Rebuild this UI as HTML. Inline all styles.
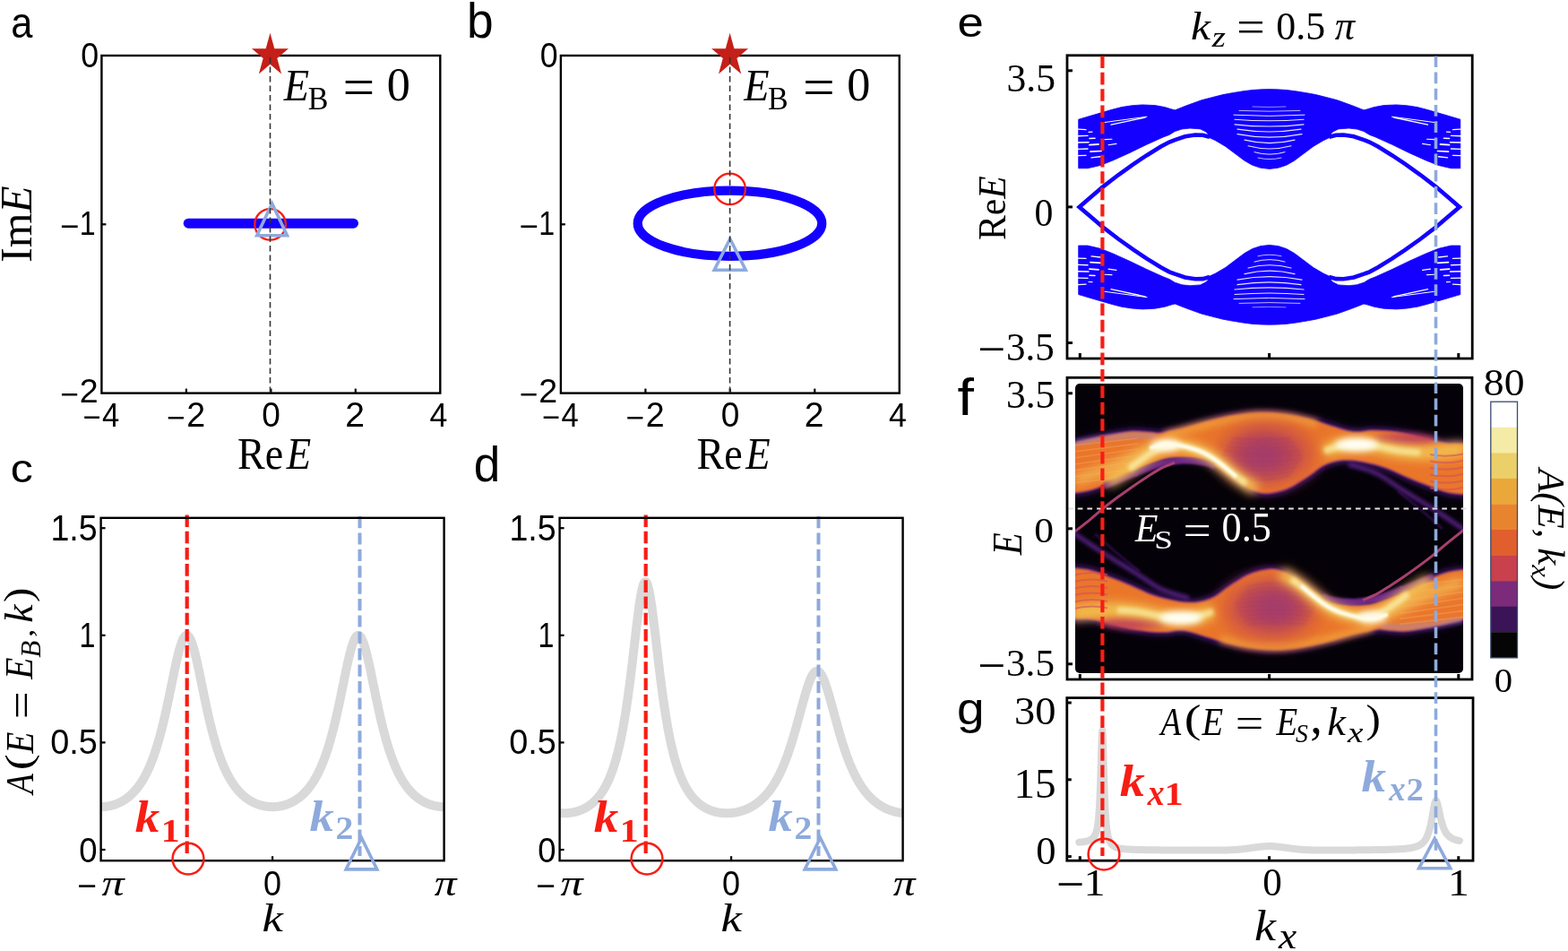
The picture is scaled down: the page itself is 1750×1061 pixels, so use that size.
<!DOCTYPE html>
<html><head><meta charset="utf-8"><title>figure</title>
<style>html,body{margin:0;padding:0;background:#fff;overflow:hidden;} svg{display:block;}</style></head>
<body><svg width="1750" height="1061" viewBox="0 0 1750 1061">
<rect width="1750" height="1061" fill="#fff"/>
<line x1="207.9" y1="438.6" x2="207.9" y2="433.6" stroke="#000" stroke-width="2.2"/>
<line x1="302.4" y1="438.6" x2="302.4" y2="433.6" stroke="#000" stroke-width="2.2"/>
<line x1="396.8" y1="438.6" x2="396.8" y2="433.6" stroke="#000" stroke-width="2.2"/>
<line x1="113.4" y1="250.3" x2="118.4" y2="250.3" stroke="#000" stroke-width="2.2"/>
<line x1="210.2" y1="249.2" x2="394.5" y2="249.2" stroke="#1400ff" stroke-width="11" stroke-linecap="round"/>
<circle cx="301.6" cy="250.4" r="17.3" fill="none" stroke="#f81d14" stroke-width="2.3"/>
<path d="M303.6,227.1 L320.5,262.7 L286.7,262.7 Z" fill="none" stroke="#8eaadc" stroke-width="3.6"/>
<rect x="113.4" y="62.0" width="377.90" height="376.60" fill="none" stroke="#000" stroke-width="2.4"/>
<path d="M301.5,36.8 L306.3,54.3 L322.0,54.3 L309.3,65.1 L314.1,82.6 L301.5,71.7 L288.9,82.6 L293.7,65.1 L281.0,54.3 L296.7,54.3 Z" fill="#c41f18"/>
<line x1="301.5" y1="64.0" x2="301.5" y2="438.6" stroke="#333" stroke-width="1.6" stroke-dasharray="6.5 4"/>
<line x1="720.4" y1="438.6" x2="720.4" y2="433.6" stroke="#000" stroke-width="2.2"/>
<line x1="814.8" y1="438.6" x2="814.8" y2="433.6" stroke="#000" stroke-width="2.2"/>
<line x1="909.3" y1="438.6" x2="909.3" y2="433.6" stroke="#000" stroke-width="2.2"/>
<line x1="625.9" y1="250.3" x2="630.9" y2="250.3" stroke="#000" stroke-width="2.2"/>
<ellipse cx="814.5" cy="249.25" rx="102.8" ry="36.65" fill="none" stroke="#1400ff" stroke-width="10.2"/>
<circle cx="814.6" cy="210.9" r="17.3" fill="none" stroke="#f81d14" stroke-width="2.3"/>
<path d="M814.8,266.5 L832.2,301.3 L797.2,301.3 Z" fill="none" stroke="#8eaadc" stroke-width="3.6"/>
<rect x="625.9" y="62.0" width="377.90" height="376.60" fill="none" stroke="#000" stroke-width="2.4"/>
<path d="M814.6,36.8 L819.4,54.3 L835.1,54.3 L822.4,65.1 L827.2,82.6 L814.6,71.7 L802.0,82.6 L806.8,65.1 L794.1,54.3 L809.8,54.3 Z" fill="#c41f18"/>
<line x1="814.6" y1="64.0" x2="814.6" y2="438.6" stroke="#333" stroke-width="1.6" stroke-dasharray="6.5 4"/>
<line x1="304.1" y1="960.2" x2="304.1" y2="955.2" stroke="#000" stroke-width="2.2"/>
<line x1="112.6" y1="948.0" x2="117.6" y2="948.0" stroke="#000" stroke-width="2.2"/>
<line x1="112.6" y1="828.4" x2="117.6" y2="828.4" stroke="#000" stroke-width="2.2"/>
<line x1="112.6" y1="708.8" x2="117.6" y2="708.8" stroke="#000" stroke-width="2.2"/>
<line x1="112.6" y1="589.2" x2="117.6" y2="589.2" stroke="#000" stroke-width="2.2"/>
<path d="M112.6,900.2 L113.2,900.2 L113.9,900.1 L114.5,900.1 L115.2,900.1 L115.8,900.1 L116.4,900.0 L117.1,900.0 L117.7,899.9 L118.3,899.8 L119.0,899.7 L119.6,899.6 L120.3,899.6 L120.9,899.4 L121.5,899.3 L122.2,899.2 L122.8,899.1 L123.5,898.9 L124.1,898.8 L124.7,898.6 L125.4,898.4 L126.0,898.3 L126.6,898.1 L127.3,897.9 L127.9,897.7 L128.6,897.5 L129.2,897.2 L129.8,897.0 L130.5,896.7 L131.1,896.5 L131.8,896.2 L132.4,895.9 L133.0,895.6 L133.7,895.3 L134.3,895.0 L134.9,894.7 L135.6,894.3 L136.2,894.0 L136.9,893.6 L137.5,893.3 L138.1,892.9 L138.8,892.5 L139.4,892.0 L140.0,891.6 L140.7,891.2 L141.3,890.7 L142.0,890.2 L142.6,889.8 L143.2,889.3 L143.9,888.7 L144.5,888.2 L145.2,887.6 L145.8,887.1 L146.4,886.5 L147.1,885.9 L147.7,885.3 L148.3,884.6 L149.0,884.0 L149.6,883.3 L150.3,882.6 L150.9,881.9 L151.5,881.1 L152.2,880.4 L152.8,879.6 L153.5,878.8 L154.1,878.0 L154.7,877.1 L155.4,876.2 L156.0,875.3 L156.6,874.4 L157.3,873.5 L157.9,872.5 L158.6,871.5 L159.2,870.4 L159.8,869.4 L160.5,868.3 L161.1,867.1 L161.8,866.0 L162.4,864.8 L163.0,863.6 L163.7,862.3 L164.3,861.0 L164.9,859.7 L165.6,858.3 L166.2,856.9 L166.9,855.4 L167.5,853.9 L168.1,852.4 L168.8,850.8 L169.4,849.2 L170.0,847.6 L170.7,845.9 L171.3,844.1 L172.0,842.3 L172.6,840.5 L173.2,838.6 L173.9,836.7 L174.5,834.7 L175.2,832.6 L175.8,830.5 L176.4,828.4 L177.1,826.2 L177.7,824.0 L178.3,821.7 L179.0,819.3 L179.6,816.9 L180.3,814.4 L180.9,811.9 L181.5,809.3 L182.2,806.7 L182.8,804.1 L183.5,801.3 L184.1,798.6 L184.7,795.7 L185.4,792.9 L186.0,790.0 L186.6,787.0 L187.3,784.0 L187.9,781.0 L188.6,778.0 L189.2,774.9 L189.8,771.8 L190.5,768.7 L191.1,765.6 L191.8,762.5 L192.4,759.3 L193.0,756.2 L193.7,753.1 L194.3,750.1 L194.9,747.1 L195.6,744.1 L196.2,741.1 L196.9,738.3 L197.5,735.5 L198.1,732.7 L198.8,730.1 L199.4,727.6 L200.1,725.2 L200.7,722.9 L201.3,720.8 L202.0,718.8 L202.6,717.0 L203.2,715.3 L203.9,713.8 L204.5,712.5 L205.2,711.4 L205.8,710.5 L206.4,709.7 L207.1,709.2 L207.7,708.9 L208.3,708.8 L209.0,708.9 L209.6,709.2 L210.3,709.7 L210.9,710.5 L211.5,711.4 L212.2,712.5 L212.8,713.8 L213.5,715.3 L214.1,717.0 L214.7,718.8 L215.4,720.8 L216.0,722.9 L216.6,725.2 L217.3,727.6 L217.9,730.1 L218.6,732.7 L219.2,735.5 L219.8,738.3 L220.5,741.1 L221.1,744.1 L221.8,747.1 L222.4,750.1 L223.0,753.1 L223.7,756.2 L224.3,759.3 L224.9,762.5 L225.6,765.6 L226.2,768.7 L226.9,771.8 L227.5,774.9 L228.1,778.0 L228.8,781.0 L229.4,784.0 L230.1,787.0 L230.7,790.0 L231.3,792.9 L232.0,795.7 L232.6,798.6 L233.2,801.3 L233.9,804.1 L234.5,806.7 L235.2,809.3 L235.8,811.9 L236.4,814.4 L237.1,816.9 L237.7,819.3 L238.4,821.7 L239.0,824.0 L239.6,826.2 L240.3,828.4 L240.9,830.5 L241.5,832.6 L242.2,834.7 L242.8,836.7 L243.5,838.6 L244.1,840.5 L244.7,842.3 L245.4,844.1 L246.0,845.9 L246.6,847.6 L247.3,849.2 L247.9,850.8 L248.6,852.4 L249.2,853.9 L249.8,855.4 L250.5,856.9 L251.1,858.3 L251.8,859.7 L252.4,861.0 L253.0,862.3 L253.7,863.6 L254.3,864.8 L254.9,866.0 L255.6,867.1 L256.2,868.3 L256.9,869.4 L257.5,870.4 L258.1,871.5 L258.8,872.5 L259.4,873.5 L260.1,874.4 L260.7,875.3 L261.3,876.2 L262.0,877.1 L262.6,878.0 L263.2,878.8 L263.9,879.6 L264.5,880.4 L265.2,881.1 L265.8,881.9 L266.4,882.6 L267.1,883.3 L267.7,884.0 L268.4,884.6 L269.0,885.3 L269.6,885.9 L270.3,886.5 L270.9,887.1 L271.5,887.6 L272.2,888.2 L272.8,888.7 L273.5,889.3 L274.1,889.8 L274.7,890.2 L275.4,890.7 L276.0,891.2 L276.7,891.6 L277.3,892.0 L277.9,892.5 L278.6,892.9 L279.2,893.3 L279.8,893.6 L280.5,894.0 L281.1,894.3 L281.8,894.7 L282.4,895.0 L283.0,895.3 L283.7,895.6 L284.3,895.9 L284.9,896.2 L285.6,896.5 L286.2,896.7 L286.9,897.0 L287.5,897.2 L288.1,897.5 L288.8,897.7 L289.4,897.9 L290.1,898.1 L290.7,898.3 L291.3,898.4 L292.0,898.6 L292.6,898.8 L293.2,898.9 L293.9,899.1 L294.5,899.2 L295.2,899.3 L295.8,899.4 L296.4,899.6 L297.1,899.6 L297.7,899.7 L298.4,899.8 L299.0,899.9 L299.6,900.0 L300.3,900.0 L300.9,900.1 L301.5,900.1 L302.2,900.1 L302.8,900.1 L303.5,900.2 L304.1,900.2 L304.7,900.2 L305.4,900.1 L306.0,900.1 L306.7,900.1 L307.3,900.1 L307.9,900.0 L308.6,900.0 L309.2,899.9 L309.8,899.8 L310.5,899.7 L311.1,899.6 L311.8,899.6 L312.4,899.4 L313.0,899.3 L313.7,899.2 L314.3,899.1 L315.0,898.9 L315.6,898.8 L316.2,898.6 L316.9,898.4 L317.5,898.3 L318.1,898.1 L318.8,897.9 L319.4,897.7 L320.1,897.5 L320.7,897.2 L321.3,897.0 L322.0,896.7 L322.6,896.5 L323.2,896.2 L323.9,895.9 L324.5,895.6 L325.2,895.3 L325.8,895.0 L326.4,894.7 L327.1,894.3 L327.7,894.0 L328.4,893.6 L329.0,893.3 L329.6,892.9 L330.3,892.5 L330.9,892.0 L331.5,891.6 L332.2,891.2 L332.8,890.7 L333.5,890.2 L334.1,889.8 L334.7,889.3 L335.4,888.7 L336.0,888.2 L336.7,887.6 L337.3,887.1 L337.9,886.5 L338.6,885.9 L339.2,885.3 L339.8,884.6 L340.5,884.0 L341.1,883.3 L341.8,882.6 L342.4,881.9 L343.0,881.1 L343.7,880.4 L344.3,879.6 L345.0,878.8 L345.6,878.0 L346.2,877.1 L346.9,876.2 L347.5,875.3 L348.1,874.4 L348.8,873.5 L349.4,872.5 L350.1,871.5 L350.7,870.4 L351.3,869.4 L352.0,868.3 L352.6,867.1 L353.3,866.0 L353.9,864.8 L354.5,863.6 L355.2,862.3 L355.8,861.0 L356.4,859.7 L357.1,858.3 L357.7,856.9 L358.4,855.4 L359.0,853.9 L359.6,852.4 L360.3,850.8 L360.9,849.2 L361.6,847.6 L362.2,845.9 L362.8,844.1 L363.5,842.3 L364.1,840.5 L364.7,838.6 L365.4,836.7 L366.0,834.7 L366.7,832.6 L367.3,830.5 L367.9,828.4 L368.6,826.2 L369.2,824.0 L369.8,821.7 L370.5,819.3 L371.1,816.9 L371.8,814.4 L372.4,811.9 L373.0,809.3 L373.7,806.7 L374.3,804.1 L375.0,801.3 L375.6,798.6 L376.2,795.7 L376.9,792.9 L377.5,790.0 L378.1,787.0 L378.8,784.0 L379.4,781.0 L380.1,778.0 L380.7,774.9 L381.3,771.8 L382.0,768.7 L382.6,765.6 L383.3,762.5 L383.9,759.3 L384.5,756.2 L385.2,753.1 L385.8,750.1 L386.4,747.1 L387.1,744.1 L387.7,741.1 L388.4,738.3 L389.0,735.5 L389.6,732.7 L390.3,730.1 L390.9,727.6 L391.6,725.2 L392.2,722.9 L392.8,720.8 L393.5,718.8 L394.1,717.0 L394.7,715.3 L395.4,713.8 L396.0,712.5 L396.7,711.4 L397.3,710.5 L397.9,709.7 L398.6,709.2 L399.2,708.9 L399.9,708.8 L400.5,708.9 L401.1,709.2 L401.8,709.7 L402.4,710.5 L403.0,711.4 L403.7,712.5 L404.3,713.8 L405.0,715.3 L405.6,717.0 L406.2,718.8 L406.9,720.8 L407.5,722.9 L408.1,725.2 L408.8,727.6 L409.4,730.1 L410.1,732.7 L410.7,735.5 L411.3,738.3 L412.0,741.1 L412.6,744.1 L413.3,747.1 L413.9,750.1 L414.5,753.1 L415.2,756.2 L415.8,759.3 L416.4,762.5 L417.1,765.6 L417.7,768.7 L418.4,771.8 L419.0,774.9 L419.6,778.0 L420.3,781.0 L420.9,784.0 L421.6,787.0 L422.2,790.0 L422.8,792.9 L423.5,795.7 L424.1,798.6 L424.7,801.3 L425.4,804.1 L426.0,806.7 L426.7,809.3 L427.3,811.9 L427.9,814.4 L428.6,816.9 L429.2,819.3 L429.9,821.7 L430.5,824.0 L431.1,826.2 L431.8,828.4 L432.4,830.5 L433.0,832.6 L433.7,834.7 L434.3,836.7 L435.0,838.6 L435.6,840.5 L436.2,842.3 L436.9,844.1 L437.5,845.9 L438.1,847.6 L438.8,849.2 L439.4,850.8 L440.1,852.4 L440.7,853.9 L441.3,855.4 L442.0,856.9 L442.6,858.3 L443.3,859.7 L443.9,861.0 L444.5,862.3 L445.2,863.6 L445.8,864.8 L446.4,866.0 L447.1,867.1 L447.7,868.3 L448.4,869.4 L449.0,870.4 L449.6,871.5 L450.3,872.5 L450.9,873.5 L451.6,874.4 L452.2,875.3 L452.8,876.2 L453.5,877.1 L454.1,878.0 L454.7,878.8 L455.4,879.6 L456.0,880.4 L456.7,881.1 L457.3,881.9 L457.9,882.6 L458.6,883.3 L459.2,884.0 L459.9,884.6 L460.5,885.3 L461.1,885.9 L461.8,886.5 L462.4,887.1 L463.0,887.6 L463.7,888.2 L464.3,888.7 L465.0,889.3 L465.6,889.8 L466.2,890.2 L466.9,890.7 L467.5,891.2 L468.2,891.6 L468.8,892.0 L469.4,892.5 L470.1,892.9 L470.7,893.3 L471.3,893.6 L472.0,894.0 L472.6,894.3 L473.3,894.7 L473.9,895.0 L474.5,895.3 L475.2,895.6 L475.8,895.9 L476.4,896.2 L477.1,896.5 L477.7,896.7 L478.4,897.0 L479.0,897.2 L479.6,897.5 L480.3,897.7 L480.9,897.9 L481.6,898.1 L482.2,898.3 L482.8,898.4 L483.5,898.6 L484.1,898.8 L484.7,898.9 L485.4,899.1 L486.0,899.2 L486.7,899.3 L487.3,899.4 L487.9,899.6 L488.6,899.6 L489.2,899.7 L489.9,899.8 L490.5,899.9 L491.1,900.0 L491.8,900.0 L492.4,900.1 L493.0,900.1 L493.7,900.1 L494.3,900.1 L495.0,900.2 L495.6,900.2" fill="none" stroke="#d9d9d9" stroke-width="10" stroke-linejoin="round"/>
<line x1="208.7" y1="574.5" x2="208.7" y2="956" stroke="#f81d14" stroke-width="4.2" stroke-dasharray="13.6 4.6"/>
<line x1="401.5" y1="576" x2="401.5" y2="955" stroke="#8eaadc" stroke-width="4" stroke-dasharray="13.2 5.2"/>
<rect x="112.6" y="577.8" width="383.00" height="382.40" fill="none" stroke="#000" stroke-width="2.4"/>
<circle cx="210.0" cy="958.1" r="17.4" fill="none" stroke="#f81d14" stroke-width="2.5"/>
<path d="M403.5,934.8 L420.8,969.9 L386.2,969.9 Z" fill="none" stroke="#8eaadc" stroke-width="3.6"/>
<line x1="816.1" y1="960.2" x2="816.1" y2="955.2" stroke="#000" stroke-width="2.2"/>
<line x1="624.6" y1="948.0" x2="629.6" y2="948.0" stroke="#000" stroke-width="2.2"/>
<line x1="624.6" y1="828.4" x2="629.6" y2="828.4" stroke="#000" stroke-width="2.2"/>
<line x1="624.6" y1="708.8" x2="629.6" y2="708.8" stroke="#000" stroke-width="2.2"/>
<line x1="624.6" y1="589.2" x2="629.6" y2="589.2" stroke="#000" stroke-width="2.2"/>
<path d="M624.6,907.0 L625.2,907.1 L625.9,907.1 L626.5,907.2 L627.2,907.2 L627.8,907.2 L628.4,907.2 L629.1,907.3 L629.7,907.3 L630.3,907.3 L631.0,907.2 L631.6,907.2 L632.3,907.2 L632.9,907.2 L633.5,907.1 L634.2,907.1 L634.8,907.0 L635.5,906.9 L636.1,906.9 L636.7,906.8 L637.4,906.7 L638.0,906.6 L638.6,906.5 L639.3,906.4 L639.9,906.2 L640.6,906.1 L641.2,906.0 L641.8,905.8 L642.5,905.7 L643.1,905.5 L643.8,905.3 L644.4,905.1 L645.0,904.9 L645.7,904.7 L646.3,904.5 L646.9,904.3 L647.6,904.1 L648.2,903.8 L648.9,903.5 L649.5,903.3 L650.1,903.0 L650.8,902.7 L651.4,902.4 L652.0,902.1 L652.7,901.8 L653.3,901.4 L654.0,901.1 L654.6,900.7 L655.2,900.3 L655.9,899.9 L656.5,899.5 L657.2,899.1 L657.8,898.6 L658.4,898.2 L659.1,897.7 L659.7,897.2 L660.3,896.7 L661.0,896.2 L661.6,895.7 L662.3,895.1 L662.9,894.5 L663.5,893.9 L664.2,893.3 L664.8,892.6 L665.5,892.0 L666.1,891.3 L666.7,890.6 L667.4,889.8 L668.0,889.1 L668.6,888.3 L669.3,887.5 L669.9,886.6 L670.6,885.8 L671.2,884.9 L671.8,883.9 L672.5,883.0 L673.1,881.9 L673.8,880.9 L674.4,879.8 L675.0,878.7 L675.7,877.6 L676.3,876.4 L676.9,875.2 L677.6,873.9 L678.2,872.6 L678.9,871.2 L679.5,869.8 L680.1,868.3 L680.8,866.8 L681.4,865.2 L682.1,863.6 L682.7,861.9 L683.3,860.1 L684.0,858.3 L684.6,856.4 L685.2,854.5 L685.9,852.4 L686.5,850.3 L687.2,848.2 L687.8,845.9 L688.4,843.6 L689.1,841.1 L689.7,838.6 L690.3,836.0 L691.0,833.3 L691.6,830.5 L692.3,827.6 L692.9,824.6 L693.5,821.5 L694.2,818.2 L694.8,814.9 L695.5,811.4 L696.1,807.8 L696.7,804.1 L697.4,800.3 L698.0,796.4 L698.6,792.3 L699.3,788.1 L699.9,783.8 L700.6,779.3 L701.2,774.7 L701.8,770.0 L702.5,765.2 L703.1,760.3 L703.8,755.2 L704.4,750.1 L705.0,744.9 L705.7,739.6 L706.3,734.2 L706.9,728.7 L707.6,723.3 L708.2,717.8 L708.9,712.3 L709.5,706.9 L710.1,701.5 L710.8,696.2 L711.4,691.0 L712.1,686.0 L712.7,681.2 L713.3,676.5 L714.0,672.1 L714.6,668.0 L715.2,664.3 L715.9,660.8 L716.5,657.8 L717.2,655.2 L717.8,653.0 L718.4,651.3 L719.1,650.0 L719.7,649.3 L720.4,649.0 L721.0,649.3 L721.6,650.0 L722.3,651.3 L722.9,653.0 L723.5,655.2 L724.2,657.8 L724.8,660.8 L725.5,664.3 L726.1,668.0 L726.7,672.1 L727.4,676.5 L728.0,681.2 L728.6,686.0 L729.3,691.0 L729.9,696.2 L730.6,701.5 L731.2,706.9 L731.8,712.3 L732.5,717.8 L733.1,723.3 L733.8,728.7 L734.4,734.2 L735.0,739.6 L735.7,744.9 L736.3,750.1 L736.9,755.2 L737.6,760.3 L738.2,765.2 L738.9,770.0 L739.5,774.7 L740.1,779.3 L740.8,783.8 L741.4,788.1 L742.1,792.3 L742.7,796.4 L743.3,800.3 L744.0,804.1 L744.6,807.8 L745.2,811.4 L745.9,814.9 L746.5,818.2 L747.2,821.5 L747.8,824.6 L748.4,827.6 L749.1,830.5 L749.7,833.3 L750.4,836.0 L751.0,838.6 L751.6,841.1 L752.3,843.6 L752.9,845.9 L753.5,848.2 L754.2,850.3 L754.8,852.4 L755.5,854.5 L756.1,856.4 L756.7,858.3 L757.4,860.1 L758.0,861.9 L758.6,863.6 L759.3,865.2 L759.9,866.8 L760.6,868.3 L761.2,869.8 L761.8,871.2 L762.5,872.6 L763.1,873.9 L763.8,875.2 L764.4,876.4 L765.0,877.6 L765.7,878.7 L766.3,879.8 L766.9,880.9 L767.6,881.9 L768.2,883.0 L768.9,883.9 L769.5,884.9 L770.1,885.8 L770.8,886.6 L771.4,887.5 L772.1,888.3 L772.7,889.1 L773.3,889.8 L774.0,890.6 L774.6,891.3 L775.2,892.0 L775.9,892.6 L776.5,893.3 L777.2,893.9 L777.8,894.5 L778.4,895.1 L779.1,895.7 L779.7,896.2 L780.4,896.7 L781.0,897.2 L781.6,897.7 L782.3,898.2 L782.9,898.6 L783.5,899.1 L784.2,899.5 L784.8,899.9 L785.5,900.3 L786.1,900.7 L786.7,901.1 L787.4,901.4 L788.0,901.8 L788.7,902.1 L789.3,902.4 L789.9,902.7 L790.6,903.0 L791.2,903.3 L791.8,903.5 L792.5,903.8 L793.1,904.1 L793.8,904.3 L794.4,904.5 L795.0,904.7 L795.7,904.9 L796.3,905.1 L797.0,905.3 L797.6,905.5 L798.2,905.7 L798.9,905.8 L799.5,906.0 L800.1,906.1 L800.8,906.2 L801.4,906.4 L802.1,906.5 L802.7,906.6 L803.3,906.7 L804.0,906.8 L804.6,906.9 L805.2,906.9 L805.9,907.0 L806.5,907.1 L807.2,907.1 L807.8,907.2 L808.4,907.2 L809.1,907.2 L809.7,907.2 L810.4,907.3 L811.0,907.3 L811.6,907.3 L812.3,907.2 L812.9,907.2 L813.5,907.2 L814.2,907.2 L814.8,907.1 L815.5,907.1 L816.1,907.0 L816.7,907.0 L817.4,906.9 L818.0,906.8 L818.7,906.8 L819.3,906.7 L819.9,906.6 L820.6,906.5 L821.2,906.4 L821.8,906.2 L822.5,906.1 L823.1,906.0 L823.8,905.8 L824.4,905.7 L825.0,905.5 L825.7,905.4 L826.3,905.2 L827.0,905.0 L827.6,904.8 L828.2,904.6 L828.9,904.4 L829.5,904.2 L830.1,904.0 L830.8,903.7 L831.4,903.5 L832.1,903.3 L832.7,903.0 L833.3,902.7 L834.0,902.4 L834.6,902.2 L835.2,901.9 L835.9,901.6 L836.5,901.2 L837.2,900.9 L837.8,900.6 L838.4,900.2 L839.1,899.9 L839.7,899.5 L840.4,899.1 L841.0,898.7 L841.6,898.3 L842.3,897.9 L842.9,897.5 L843.5,897.1 L844.2,896.6 L844.8,896.2 L845.5,895.7 L846.1,895.2 L846.7,894.7 L847.4,894.2 L848.0,893.6 L848.7,893.1 L849.3,892.5 L849.9,892.0 L850.6,891.4 L851.2,890.8 L851.8,890.1 L852.5,889.5 L853.1,888.8 L853.8,888.2 L854.4,887.5 L855.0,886.8 L855.7,886.0 L856.3,885.3 L857.0,884.5 L857.6,883.7 L858.2,882.9 L858.9,882.1 L859.5,881.3 L860.1,880.4 L860.8,879.5 L861.4,878.6 L862.1,877.6 L862.7,876.7 L863.3,875.7 L864.0,874.7 L864.6,873.6 L865.3,872.6 L865.9,871.5 L866.5,870.3 L867.2,869.2 L867.8,868.0 L868.4,866.8 L869.1,865.6 L869.7,864.3 L870.4,863.0 L871.0,861.7 L871.6,860.3 L872.3,858.9 L872.9,857.5 L873.6,856.0 L874.2,854.5 L874.8,853.0 L875.5,851.5 L876.1,849.9 L876.7,848.2 L877.4,846.5 L878.0,844.8 L878.7,843.1 L879.3,841.3 L879.9,839.5 L880.6,837.6 L881.2,835.8 L881.8,833.8 L882.5,831.9 L883.1,829.9 L883.8,827.8 L884.4,825.8 L885.0,823.7 L885.7,821.5 L886.3,819.4 L887.0,817.2 L887.6,815.0 L888.2,812.7 L888.9,810.5 L889.5,808.2 L890.1,805.8 L890.8,803.5 L891.4,801.2 L892.1,798.8 L892.7,796.5 L893.3,794.1 L894.0,791.7 L894.6,789.4 L895.3,787.0 L895.9,784.7 L896.5,782.4 L897.2,780.1 L897.8,777.9 L898.4,775.7 L899.1,773.5 L899.7,771.4 L900.4,769.3 L901.0,767.3 L901.6,765.4 L902.3,763.5 L902.9,761.7 L903.6,760.0 L904.2,758.4 L904.8,756.9 L905.5,755.6 L906.1,754.3 L906.7,753.1 L907.4,752.1 L908.0,751.2 L908.7,750.4 L909.3,749.8 L909.9,749.3 L910.6,749.0 L911.2,748.7 L911.9,748.7 L912.5,748.7 L913.1,749.0 L913.8,749.3 L914.4,749.8 L915.0,750.4 L915.7,751.2 L916.3,752.1 L917.0,753.1 L917.6,754.3 L918.2,755.6 L918.9,756.9 L919.5,758.4 L920.1,760.0 L920.8,761.7 L921.4,763.5 L922.1,765.4 L922.7,767.3 L923.3,769.3 L924.0,771.4 L924.6,773.5 L925.3,775.7 L925.9,777.9 L926.5,780.1 L927.2,782.4 L927.8,784.7 L928.4,787.0 L929.1,789.4 L929.7,791.7 L930.4,794.1 L931.0,796.5 L931.6,798.8 L932.3,801.2 L932.9,803.5 L933.6,805.8 L934.2,808.2 L934.8,810.5 L935.5,812.7 L936.1,815.0 L936.7,817.2 L937.4,819.4 L938.0,821.5 L938.7,823.7 L939.3,825.8 L939.9,827.8 L940.6,829.9 L941.2,831.9 L941.9,833.8 L942.5,835.8 L943.1,837.6 L943.8,839.5 L944.4,841.3 L945.0,843.1 L945.7,844.8 L946.3,846.5 L947.0,848.2 L947.6,849.9 L948.2,851.5 L948.9,853.0 L949.5,854.5 L950.2,856.0 L950.8,857.5 L951.4,858.9 L952.1,860.3 L952.7,861.7 L953.3,863.0 L954.0,864.3 L954.6,865.6 L955.3,866.8 L955.9,868.0 L956.5,869.2 L957.2,870.3 L957.8,871.5 L958.4,872.6 L959.1,873.6 L959.7,874.7 L960.4,875.7 L961.0,876.7 L961.6,877.6 L962.3,878.6 L962.9,879.5 L963.6,880.4 L964.2,881.3 L964.8,882.1 L965.5,882.9 L966.1,883.7 L966.7,884.5 L967.4,885.3 L968.0,886.0 L968.7,886.8 L969.3,887.5 L969.9,888.2 L970.6,888.8 L971.2,889.5 L971.9,890.1 L972.5,890.8 L973.1,891.4 L973.8,892.0 L974.4,892.5 L975.0,893.1 L975.7,893.6 L976.3,894.2 L977.0,894.7 L977.6,895.2 L978.2,895.7 L978.9,896.2 L979.5,896.6 L980.2,897.1 L980.8,897.5 L981.4,897.9 L982.1,898.3 L982.7,898.7 L983.3,899.1 L984.0,899.5 L984.6,899.9 L985.3,900.2 L985.9,900.6 L986.5,900.9 L987.2,901.2 L987.8,901.6 L988.5,901.9 L989.1,902.2 L989.7,902.4 L990.4,902.7 L991.0,903.0 L991.6,903.3 L992.3,903.5 L992.9,903.7 L993.6,904.0 L994.2,904.2 L994.8,904.4 L995.5,904.6 L996.1,904.8 L996.7,905.0 L997.4,905.2 L998.0,905.4 L998.7,905.5 L999.3,905.7 L999.9,905.8 L1000.6,906.0 L1001.2,906.1 L1001.9,906.2 L1002.5,906.4 L1003.1,906.5 L1003.8,906.6 L1004.4,906.7 L1005.0,906.8 L1005.7,906.8 L1006.3,906.9 L1007.0,907.0 L1007.6,907.0" fill="none" stroke="#d9d9d9" stroke-width="10" stroke-linejoin="round"/>
<line x1="720.7" y1="574.5" x2="720.7" y2="956" stroke="#f81d14" stroke-width="4.2" stroke-dasharray="13.6 4.6"/>
<line x1="913.5" y1="576" x2="913.5" y2="955" stroke="#8eaadc" stroke-width="4" stroke-dasharray="13.2 5.2"/>
<rect x="624.6" y="577.8" width="383.00" height="382.40" fill="none" stroke="#000" stroke-width="2.4"/>
<circle cx="722.0" cy="958.1" r="17.4" fill="none" stroke="#f81d14" stroke-width="2.5"/>
<path d="M915.5,934.8 L932.8,969.9 L898.2,969.9 Z" fill="none" stroke="#8eaadc" stroke-width="3.6"/>
<g fill="#1400ff" stroke="#1400ff" stroke-width="0.8" stroke-linejoin="round">
<path d="M1203.7,133.2 L1216.0,129.6 L1228.0,126.1 L1240.0,122.6 L1251.5,119.6 L1263.0,117.8 L1275.1,116.9 L1289.3,117.6 L1300.0,119.6 L1308.0,122.0 L1311.5,122.8 L1315.0,121.4 L1325.0,117.5 L1340.8,111.8 L1352.6,108.7 L1365.0,105.6 L1375.2,103.7 L1387.0,101.8 L1397.8,100.4 L1408.0,99.8 L1416.8,99.6 L1425.5,99.8 L1435.7,100.4 L1446.5,101.8 L1458.3,103.7 L1468.5,105.6 L1480.9,108.7 L1492.7,111.8 L1508.5,117.5 L1518.5,121.4 L1522.0,122.8 L1525.5,122.0 L1533.5,119.6 L1544.2,117.6 L1558.4,116.9 L1570.5,117.8 L1582.0,119.6 L1593.5,122.6 L1605.5,126.1 L1617.5,129.6 L1629.8,133.2 L1629.8,187.8 L1619.6,187.8 L1605.5,184.5 L1591.4,178.9 L1572.5,170.4 L1553.7,161.3 L1534.8,152.8 L1528.5,150.4 L1522.2,146.6 L1514.3,144.0 L1505.2,143.1 L1493.9,143.9 L1488.5,146.5 L1485.5,148.9 L1485.0,153.0 L1477.0,156.7 L1465.7,163.4 L1453.5,172.6 L1444.5,179.3 L1435.7,184.3 L1426.5,187.3 L1416.8,188.4 L1407.0,187.3 L1397.8,184.3 L1389.0,179.3 L1380.0,172.6 L1367.8,163.4 L1356.5,156.7 L1348.5,153.0 L1348.0,148.9 L1345.0,146.5 L1339.6,143.9 L1328.3,143.1 L1319.2,144.0 L1311.3,146.6 L1305.0,150.4 L1298.7,152.8 L1279.8,161.3 L1261.0,170.4 L1242.1,178.9 L1228.0,184.5 L1213.9,187.8 L1203.7,187.8 Z"/>
<path d="M1203.7,328.6 L1216.0,332.2 L1228.0,335.7 L1240.0,339.2 L1251.5,342.2 L1263.0,344.0 L1275.1,344.9 L1289.3,344.2 L1300.0,342.2 L1308.0,339.8 L1311.5,339.0 L1315.0,340.4 L1325.0,344.3 L1340.8,350.0 L1352.6,353.1 L1365.0,356.2 L1375.2,358.1 L1387.0,360.0 L1397.8,361.4 L1408.0,362.0 L1416.8,362.2 L1425.5,362.0 L1435.7,361.4 L1446.5,360.0 L1458.3,358.1 L1468.5,356.2 L1480.9,353.1 L1492.7,350.0 L1508.5,344.3 L1518.5,340.4 L1522.0,339.0 L1525.5,339.8 L1533.5,342.2 L1544.2,344.2 L1558.4,344.9 L1570.5,344.0 L1582.0,342.2 L1593.5,339.2 L1605.5,335.7 L1617.5,332.2 L1629.8,328.6 L1629.8,274.0 L1619.6,274.0 L1605.5,277.3 L1591.4,282.9 L1572.5,291.4 L1553.7,300.5 L1534.8,309.0 L1528.5,311.4 L1522.2,315.2 L1514.3,317.8 L1505.2,318.7 L1493.9,317.9 L1488.5,315.3 L1485.5,312.9 L1485.0,308.8 L1477.0,305.1 L1465.7,298.4 L1453.5,289.2 L1444.5,282.5 L1435.7,277.5 L1426.5,274.5 L1416.8,273.4 L1407.0,274.5 L1397.8,277.5 L1389.0,282.5 L1380.0,289.2 L1367.8,298.4 L1356.5,305.1 L1348.5,308.8 L1348.0,312.9 L1345.0,315.3 L1339.6,317.9 L1328.3,318.7 L1319.2,317.8 L1311.3,315.2 L1305.0,311.4 L1298.7,309.0 L1279.8,300.5 L1261.0,291.4 L1242.1,282.9 L1228.0,277.3 L1213.9,274.0 L1203.7,274.0 Z"/>
</g>
<g fill="none" stroke="#1400ff" stroke-width="4.6" stroke-linejoin="miter" stroke-miterlimit="10">
<path d="M1350.0,309.0 L1342.4,311.1 L1333.9,311.2 L1322.6,309.5 L1311.3,305.7 L1305.0,303.3 L1295.6,298.2 L1280.0,288.6 L1265.4,278.9 L1248.0,266.5 L1230.7,253.2 L1217.0,241.5 L1204.6,230.9 L1217.0,220.3 L1230.7,208.6 L1248.0,195.3 L1265.4,182.9 L1280.0,173.2 L1295.6,163.6 L1305.0,158.5 L1311.3,156.1 L1322.6,152.3 L1333.9,150.6 L1342.4,150.7 L1350.0,152.8"/>
<path d="M1483.5,309.0 L1491.1,311.1 L1499.6,311.2 L1510.9,309.5 L1522.2,305.7 L1528.5,303.3 L1537.9,298.2 L1553.5,288.6 L1568.1,278.9 L1585.5,266.5 L1602.8,253.2 L1616.5,241.5 L1628.9,230.9 L1616.5,220.3 L1602.8,208.6 L1585.5,195.3 L1568.1,182.9 L1553.5,173.2 L1537.9,163.6 L1528.5,158.5 L1522.2,156.1 L1510.9,152.3 L1499.6,150.6 L1491.1,150.7 L1483.5,152.8"/>
</g>
<g fill="none" stroke="#fff" stroke-linecap="round">
<path d="M1398,119.0 Q1416.5,120.0 1435,119.0" stroke-width="0.6" opacity="0.9"/>
<path d="M1398,342.8 Q1416.5,341.8 1435,342.8" stroke-width="0.6" opacity="0.9"/>
<path d="M1383,123.4 Q1417.0,125.0 1451,123.4" stroke-width="0.8" opacity="0.9"/>
<path d="M1383,338.4 Q1417.0,336.8 1451,338.4" stroke-width="0.8" opacity="0.9"/>
<path d="M1377,128.2 Q1416.5,130.6 1456,128.2" stroke-width="1" opacity="0.9"/>
<path d="M1377,333.6 Q1416.5,331.2 1456,333.6" stroke-width="1" opacity="0.9"/>
<path d="M1378,133.3 Q1416.5,136.3 1455,133.3" stroke-width="1.1" opacity="0.9"/>
<path d="M1378,328.5 Q1416.5,325.5 1455,328.5" stroke-width="1.1" opacity="0.9"/>
<path d="M1378,138.8 Q1416.5,143.2 1455,138.8" stroke-width="1.2" opacity="0.9"/>
<path d="M1378,323.0 Q1416.5,318.6 1455,323.0" stroke-width="1.2" opacity="0.9"/>
<path d="M1381,144.2 Q1416.5,149.8 1452,144.2" stroke-width="1.2" opacity="0.9"/>
<path d="M1381,317.6 Q1416.5,312.0 1452,317.6" stroke-width="1.2" opacity="0.9"/>
<path d="M1381,149.7 Q1417.0,156.7 1453,149.7" stroke-width="1.2" opacity="0.9"/>
<path d="M1381,312.1 Q1417.0,305.1 1453,312.1" stroke-width="1.2" opacity="0.9"/>
<path d="M1389,156.2 Q1417.0,163.2 1445,156.2" stroke-width="1.2" opacity="0.9"/>
<path d="M1389,305.6 Q1417.0,298.6 1445,305.6" stroke-width="1.2" opacity="0.9"/>
<path d="M1393,162.8 Q1417.0,169.2 1441,162.8" stroke-width="1.1" opacity="0.9"/>
<path d="M1393,299.0 Q1417.0,292.6 1441,299.0" stroke-width="1.1" opacity="0.9"/>
<path d="M1400,169.7 Q1417.0,174.7 1434,169.7" stroke-width="1" opacity="0.9"/>
<path d="M1400,292.1 Q1417.0,287.1 1434,292.1" stroke-width="1" opacity="0.9"/>
<path d="M1404,176.1 Q1417.0,179.1 1430,176.1" stroke-width="0.8" opacity="0.9"/>
<path d="M1404,285.7 Q1417.0,282.7 1430,285.7" stroke-width="0.8" opacity="0.9"/>
<path d="M1203.0,144.2 L1212.0,144.6" stroke-width="1.3"/>
<path d="M1203.0,317.6 L1212.0,317.2" stroke-width="1.3"/>
<path d="M1630.5,144.2 L1621.5,144.6" stroke-width="1.3"/>
<path d="M1630.5,317.6 L1621.5,317.2" stroke-width="1.3"/>
<path d="M1203.0,151.7 L1214.0,151.4" stroke-width="1.4"/>
<path d="M1203.0,310.1 L1214.0,310.4" stroke-width="1.4"/>
<path d="M1630.5,151.7 L1619.5,151.4" stroke-width="1.4"/>
<path d="M1630.5,310.1 L1619.5,310.4" stroke-width="1.4"/>
<path d="M1203.0,159.0 L1215.0,158.7" stroke-width="1.5"/>
<path d="M1203.0,302.8 L1215.0,303.1" stroke-width="1.5"/>
<path d="M1630.5,159.0 L1618.5,158.7" stroke-width="1.5"/>
<path d="M1630.5,302.8 L1618.5,303.1" stroke-width="1.5"/>
<path d="M1203.0,166.4 L1214.0,166.0" stroke-width="1.4"/>
<path d="M1203.0,295.4 L1214.0,295.8" stroke-width="1.4"/>
<path d="M1630.5,166.4 L1619.5,166.0" stroke-width="1.4"/>
<path d="M1630.5,295.4 L1619.5,295.8" stroke-width="1.4"/>
<path d="M1203.0,173.6 L1212.0,173.4" stroke-width="1.3"/>
<path d="M1203.0,288.2 L1212.0,288.4" stroke-width="1.3"/>
<path d="M1630.5,173.6 L1621.5,173.4" stroke-width="1.3"/>
<path d="M1630.5,288.2 L1621.5,288.4" stroke-width="1.3"/>
<path d="M1215.0,147.3 L1219.0,147.1" stroke-width="1.2"/>
<path d="M1215.0,314.5 L1219.0,314.7" stroke-width="1.2"/>
<path d="M1618.5,147.3 L1614.5,147.1" stroke-width="1.2"/>
<path d="M1618.5,314.5 L1614.5,314.7" stroke-width="1.2"/>
<path d="M1216.0,154.5 L1222.0,154.3" stroke-width="1.6"/>
<path d="M1216.0,307.3 L1222.0,307.5" stroke-width="1.6"/>
<path d="M1617.5,154.5 L1611.5,154.3" stroke-width="1.6"/>
<path d="M1617.5,307.3 L1611.5,307.5" stroke-width="1.6"/>
<path d="M1216.0,161.6 L1226.0,161.0" stroke-width="1.8"/>
<path d="M1216.0,300.2 L1226.0,300.8" stroke-width="1.8"/>
<path d="M1617.5,161.6 L1607.5,161.0" stroke-width="1.8"/>
<path d="M1617.5,300.2 L1607.5,300.8" stroke-width="1.8"/>
<path d="M1217.0,169.2 L1229.0,168.5" stroke-width="1.7"/>
<path d="M1217.0,292.6 L1229.0,293.3" stroke-width="1.7"/>
<path d="M1616.5,169.2 L1604.5,168.5" stroke-width="1.7"/>
<path d="M1616.5,292.6 L1604.5,293.3" stroke-width="1.7"/>
<path d="M1218.0,175.9 L1228.0,174.8" stroke-width="1.4"/>
<path d="M1218.0,285.9 L1228.0,287.0" stroke-width="1.4"/>
<path d="M1615.5,175.9 L1605.5,174.8" stroke-width="1.4"/>
<path d="M1615.5,285.9 L1605.5,287.0" stroke-width="1.4"/>
<path d="M1233.0,136.5 L1280.0,130.2" stroke-width="1.0"/>
<path d="M1233.0,325.3 L1280.0,331.6" stroke-width="1.0"/>
<path d="M1600.5,136.5 L1553.5,130.2" stroke-width="1.0"/>
<path d="M1600.5,325.3 L1553.5,331.6" stroke-width="1.0"/>
<path d="M1240.0,139.2 L1278.0,131.0" stroke-width="1.3"/>
<path d="M1240.0,322.6 L1278.0,330.8" stroke-width="1.3"/>
<path d="M1593.5,139.2 L1555.5,131.0" stroke-width="1.3"/>
<path d="M1593.5,322.6 L1555.5,330.8" stroke-width="1.3"/>
<path d="M1233.0,155.6 L1241.0,155.2" stroke-width="1.1"/>
<path d="M1233.0,306.2 L1241.0,306.6" stroke-width="1.1"/>
<path d="M1600.5,155.6 L1592.5,155.2" stroke-width="1.1"/>
<path d="M1600.5,306.2 L1592.5,306.6" stroke-width="1.1"/>
<path d="M1237.0,161.7 L1246.0,160.4" stroke-width="1.1"/>
<path d="M1237.0,300.1 L1246.0,301.4" stroke-width="1.1"/>
<path d="M1596.5,161.7 L1587.5,160.4" stroke-width="1.1"/>
<path d="M1596.5,300.1 L1587.5,301.4" stroke-width="1.1"/>
</g>
<line x1="1205.3" y1="400.0" x2="1205.3" y2="394.0" stroke="#000" stroke-width="3"/>
<line x1="1416.6" y1="400.0" x2="1416.6" y2="394.0" stroke="#000" stroke-width="3"/>
<line x1="1627.8" y1="400.0" x2="1627.8" y2="394.0" stroke="#000" stroke-width="3"/>
<line x1="1191.0" y1="78.8" x2="1197.0" y2="78.8" stroke="#000" stroke-width="3"/>
<line x1="1191.0" y1="230.9" x2="1197.0" y2="230.9" stroke="#000" stroke-width="3"/>
<line x1="1191.0" y1="382.5" x2="1197.0" y2="382.5" stroke="#000" stroke-width="3"/>
<rect x="1191.0" y="61.8" width="452.20" height="338.20" fill="none" stroke="#000" stroke-width="2.8"/>
<defs>
<clipPath id="hmclip"><rect x="1200" y="428" width="433" height="323" rx="5"/></clipPath>
<filter id="b1" filterUnits="userSpaceOnUse" x="1150" y="380" width="540" height="420"><feGaussianBlur stdDeviation="1.2"/></filter>
<filter id="b2" filterUnits="userSpaceOnUse" x="1150" y="380" width="540" height="420"><feGaussianBlur stdDeviation="2.2"/></filter>
<filter id="b3" filterUnits="userSpaceOnUse" x="1150" y="380" width="540" height="420"><feGaussianBlur stdDeviation="3.5"/></filter>
<filter id="b5" filterUnits="userSpaceOnUse" x="1150" y="380" width="540" height="420"><feGaussianBlur stdDeviation="5.5"/></filter>
<filter id="b8" filterUnits="userSpaceOnUse" x="1150" y="380" width="540" height="420"><feGaussianBlur stdDeviation="8"/></filter>
<filter id="b12" filterUnits="userSpaceOnUse" x="1150" y="380" width="540" height="420"><feGaussianBlur stdDeviation="12"/></filter>
<filter id="b07" filterUnits="userSpaceOnUse" x="1150" y="380" width="540" height="420"><feGaussianBlur stdDeviation="0.7"/></filter>
</defs>
<rect x="1200" y="428" width="433" height="323" rx="5" fill="#040208"/>
<g clip-path="url(#hmclip)">
<g id="fhalf"><path d="M1196.0,495.0 C1199.2,494.2 1209.2,491.8 1215.0,490.5 C1220.8,489.2 1225.2,488.2 1231.0,487.0 C1236.8,485.8 1244.3,484.4 1250.0,483.5 C1255.7,482.6 1259.7,481.7 1265.0,481.5 C1270.3,481.3 1277.2,482.2 1282.0,482.5 C1286.8,482.8 1290.2,483.7 1294.0,483.5 C1297.8,483.3 1300.2,482.4 1305.0,481.5 C1309.8,480.6 1315.9,479.6 1322.6,477.8 C1329.3,476.1 1337.7,473.1 1345.2,471.0 C1352.8,468.9 1360.4,466.9 1367.9,465.4 C1375.5,463.9 1382.7,462.8 1390.5,462.0 C1398.3,461.2 1407.2,460.6 1415.0,460.8 C1422.8,461.0 1430.1,462.0 1437.6,463.1 C1445.1,464.2 1452.7,465.7 1460.2,467.6 C1467.8,469.5 1475.4,472.1 1482.9,474.4 C1490.5,476.7 1499.8,479.9 1505.5,481.2 C1511.2,482.5 1512.7,482.4 1516.8,482.3 C1520.9,482.2 1524.9,480.7 1530.0,480.5 C1535.1,480.3 1540.9,480.4 1547.6,481.0 C1554.3,481.6 1562.7,482.9 1570.2,484.4 C1577.8,485.9 1585.4,488.3 1592.9,490.1 C1600.5,491.9 1608.2,494.2 1615.5,495.0 C1622.8,495.8 1633.4,495.0 1637.0,495.0 L1637.0,551.5 C1633.4,551.1 1622.8,550.8 1615.5,549.0 C1608.2,547.2 1600.5,543.8 1592.9,541.0 C1585.4,538.2 1577.8,535.2 1570.2,532.0 C1562.7,528.8 1554.6,524.6 1547.6,522.0 C1540.6,519.4 1534.1,517.9 1528.0,516.5 C1521.9,515.1 1516.6,514.0 1511.0,513.5 C1505.4,513.0 1499.8,512.6 1494.2,513.5 C1488.6,514.4 1482.9,516.1 1477.2,519.0 C1471.5,521.9 1466.8,526.8 1460.2,531.0 C1453.6,535.2 1445.1,541.3 1437.6,544.5 C1430.1,547.7 1421.0,549.6 1415.0,550.2 C1409.0,550.8 1405.9,549.3 1401.8,548.0 C1397.7,546.7 1394.3,544.6 1390.5,542.3 C1386.7,540.0 1383.0,536.9 1379.2,534.3 C1375.4,531.6 1371.7,528.9 1367.9,526.4 C1364.1,523.9 1360.3,521.1 1356.5,519.0 C1352.7,516.9 1349.4,514.9 1345.0,513.5 C1340.6,512.1 1335.0,511.1 1330.0,510.5 C1325.0,509.9 1320.0,509.8 1315.0,510.0 C1310.0,510.2 1305.8,510.1 1300.0,511.5 C1294.2,512.9 1286.7,515.9 1280.0,518.5 C1273.3,521.1 1268.0,523.2 1260.0,527.0 C1252.0,530.8 1239.5,537.7 1232.0,541.0 C1224.5,544.3 1221.0,545.5 1215.0,547.0 C1209.0,548.5 1199.2,549.5 1196.0,550.0 Z" fill="#3c1262" stroke="#3c1262" stroke-width="7" filter="url(#b3)"/><path d="M1196.0,495.0 C1199.2,494.2 1209.2,491.8 1215.0,490.5 C1220.8,489.2 1225.2,488.2 1231.0,487.0 C1236.8,485.8 1244.3,484.4 1250.0,483.5 C1255.7,482.6 1259.7,481.7 1265.0,481.5 C1270.3,481.3 1277.2,482.2 1282.0,482.5 C1286.8,482.8 1290.2,483.7 1294.0,483.5 C1297.8,483.3 1300.2,482.4 1305.0,481.5 C1309.8,480.6 1315.9,479.6 1322.6,477.8 C1329.3,476.1 1337.7,473.1 1345.2,471.0 C1352.8,468.9 1360.4,466.9 1367.9,465.4 C1375.5,463.9 1382.7,462.8 1390.5,462.0 C1398.3,461.2 1407.2,460.6 1415.0,460.8 C1422.8,461.0 1430.1,462.0 1437.6,463.1 C1445.1,464.2 1452.7,465.7 1460.2,467.6 C1467.8,469.5 1475.4,472.1 1482.9,474.4 C1490.5,476.7 1499.8,479.9 1505.5,481.2 C1511.2,482.5 1512.7,482.4 1516.8,482.3 C1520.9,482.2 1524.9,480.7 1530.0,480.5 C1535.1,480.3 1540.9,480.4 1547.6,481.0 C1554.3,481.6 1562.7,482.9 1570.2,484.4 C1577.8,485.9 1585.4,488.3 1592.9,490.1 C1600.5,491.9 1608.2,494.2 1615.5,495.0 C1622.8,495.8 1633.4,495.0 1637.0,495.0 L1637.0,551.5 C1633.4,551.1 1622.8,550.8 1615.5,549.0 C1608.2,547.2 1600.5,543.8 1592.9,541.0 C1585.4,538.2 1577.8,535.2 1570.2,532.0 C1562.7,528.8 1554.6,524.6 1547.6,522.0 C1540.6,519.4 1534.1,517.9 1528.0,516.5 C1521.9,515.1 1516.6,514.0 1511.0,513.5 C1505.4,513.0 1499.8,512.6 1494.2,513.5 C1488.6,514.4 1482.9,516.1 1477.2,519.0 C1471.5,521.9 1466.8,526.8 1460.2,531.0 C1453.6,535.2 1445.1,541.3 1437.6,544.5 C1430.1,547.7 1421.0,549.6 1415.0,550.2 C1409.0,550.8 1405.9,549.3 1401.8,548.0 C1397.7,546.7 1394.3,544.6 1390.5,542.3 C1386.7,540.0 1383.0,536.9 1379.2,534.3 C1375.4,531.6 1371.7,528.9 1367.9,526.4 C1364.1,523.9 1360.3,521.1 1356.5,519.0 C1352.7,516.9 1349.4,514.9 1345.0,513.5 C1340.6,512.1 1335.0,511.1 1330.0,510.5 C1325.0,509.9 1320.0,509.8 1315.0,510.0 C1310.0,510.2 1305.8,510.1 1300.0,511.5 C1294.2,512.9 1286.7,515.9 1280.0,518.5 C1273.3,521.1 1268.0,523.2 1260.0,527.0 C1252.0,530.8 1239.5,537.7 1232.0,541.0 C1224.5,544.3 1221.0,545.5 1215.0,547.0 C1209.0,548.5 1199.2,549.5 1196.0,550.0 Z" fill="#6a2580" stroke="#6a2580" stroke-width="2.5" filter="url(#b1)"/><path d="M1196.0,495.0 C1199.2,494.2 1209.2,491.8 1215.0,490.5 C1220.8,489.2 1225.2,488.2 1231.0,487.0 C1236.8,485.8 1244.3,484.4 1250.0,483.5 C1255.7,482.6 1259.7,481.7 1265.0,481.5 C1270.3,481.3 1277.2,482.2 1282.0,482.5 C1286.8,482.8 1290.2,483.7 1294.0,483.5 C1297.8,483.3 1300.2,482.4 1305.0,481.5 C1309.8,480.6 1315.9,479.6 1322.6,477.8 C1329.3,476.1 1337.7,473.1 1345.2,471.0 C1352.8,468.9 1360.4,466.9 1367.9,465.4 C1375.5,463.9 1382.7,462.8 1390.5,462.0 C1398.3,461.2 1407.2,460.6 1415.0,460.8 C1422.8,461.0 1430.1,462.0 1437.6,463.1 C1445.1,464.2 1452.7,465.7 1460.2,467.6 C1467.8,469.5 1475.4,472.1 1482.9,474.4 C1490.5,476.7 1499.8,479.9 1505.5,481.2 C1511.2,482.5 1512.7,482.4 1516.8,482.3 C1520.9,482.2 1524.9,480.7 1530.0,480.5 C1535.1,480.3 1540.9,480.4 1547.6,481.0 C1554.3,481.6 1562.7,482.9 1570.2,484.4 C1577.8,485.9 1585.4,488.3 1592.9,490.1 C1600.5,491.9 1608.2,494.2 1615.5,495.0 C1622.8,495.8 1633.4,495.0 1637.0,495.0 L1637.0,551.5 C1633.4,551.1 1622.8,550.8 1615.5,549.0 C1608.2,547.2 1600.5,543.8 1592.9,541.0 C1585.4,538.2 1577.8,535.2 1570.2,532.0 C1562.7,528.8 1554.6,524.6 1547.6,522.0 C1540.6,519.4 1534.1,517.9 1528.0,516.5 C1521.9,515.1 1516.6,514.0 1511.0,513.5 C1505.4,513.0 1499.8,512.6 1494.2,513.5 C1488.6,514.4 1482.9,516.1 1477.2,519.0 C1471.5,521.9 1466.8,526.8 1460.2,531.0 C1453.6,535.2 1445.1,541.3 1437.6,544.5 C1430.1,547.7 1421.0,549.6 1415.0,550.2 C1409.0,550.8 1405.9,549.3 1401.8,548.0 C1397.7,546.7 1394.3,544.6 1390.5,542.3 C1386.7,540.0 1383.0,536.9 1379.2,534.3 C1375.4,531.6 1371.7,528.9 1367.9,526.4 C1364.1,523.9 1360.3,521.1 1356.5,519.0 C1352.7,516.9 1349.4,514.9 1345.0,513.5 C1340.6,512.1 1335.0,511.1 1330.0,510.5 C1325.0,509.9 1320.0,509.8 1315.0,510.0 C1310.0,510.2 1305.8,510.1 1300.0,511.5 C1294.2,512.9 1286.7,515.9 1280.0,518.5 C1273.3,521.1 1268.0,523.2 1260.0,527.0 C1252.0,530.8 1239.5,537.7 1232.0,541.0 C1224.5,544.3 1221.0,545.5 1215.0,547.0 C1209.0,548.5 1199.2,549.5 1196.0,550.0 Z" fill="#ea762b" filter="url(#b1)"/><path d="M1300.0,486.0 C1307.5,484.0 1330.0,477.5 1345.0,474.0 C1360.0,470.5 1378.3,466.7 1390.0,465.0 C1401.7,463.3 1406.7,463.8 1415.0,464.0 C1423.3,464.2 1430.8,464.5 1440.0,466.0 C1449.2,467.5 1465.0,471.8 1470.0,473.0" fill="none" stroke="#f09a38" stroke-width="8" filter="url(#b3)"/><ellipse cx="1414" cy="506" rx="50" ry="30" fill="#c6474f" opacity="0.9" filter="url(#b12)"/><ellipse cx="1410" cy="508" rx="32" ry="22" fill="#a43e6a" opacity="0.85" filter="url(#b12)"/><ellipse cx="1410" cy="508" rx="16" ry="12" fill="#a43c6e" opacity="0.7" filter="url(#b8)"/><path d="M1375.5,489.0 Q1408,492.0 1440.5,489.0" stroke="#8e3274" stroke-width="1.8" fill="none" opacity="0.28" filter="url(#b1)"/><path d="M1372.5,493.6 Q1408,497.3 1443.5,493.6" stroke="#8e3274" stroke-width="1.8" fill="none" opacity="0.28" filter="url(#b1)"/><path d="M1369.5,498.2 Q1408,502.6 1446.5,498.2" stroke="#8e3274" stroke-width="1.8" fill="none" opacity="0.28" filter="url(#b1)"/><path d="M1366.5,502.8 Q1408,507.9 1449.5,502.8" stroke="#8e3274" stroke-width="1.8" fill="none" opacity="0.28" filter="url(#b1)"/><path d="M1363.5,507.4 Q1408,513.2 1452.5,507.4" stroke="#8e3274" stroke-width="1.8" fill="none" opacity="0.28" filter="url(#b1)"/><path d="M1363.5,512.0 Q1408,518.5 1452.5,512.0" stroke="#8e3274" stroke-width="1.8" fill="none" opacity="0.28" filter="url(#b1)"/><path d="M1366.5,516.6 Q1408,523.8 1449.5,516.6" stroke="#8e3274" stroke-width="1.8" fill="none" opacity="0.28" filter="url(#b1)"/><path d="M1369.5,521.2 Q1408,529.1 1446.5,521.2" stroke="#8e3274" stroke-width="1.8" fill="none" opacity="0.28" filter="url(#b1)"/><path d="M1372.5,525.8 Q1408,534.4 1443.5,525.8" stroke="#8e3274" stroke-width="1.8" fill="none" opacity="0.28" filter="url(#b1)"/><path d="M1375.5,530.4 Q1408,539.7 1440.5,530.4" stroke="#8e3274" stroke-width="1.8" fill="none" opacity="0.28" filter="url(#b1)"/><ellipse cx="1568" cy="491" rx="36" ry="7" fill="#c03e58" filter="url(#b3)"/><path d="M1198,497 L1270,489" stroke="#f6b070" stroke-width="1.6" opacity="0.35" filter="url(#b07)"/><path d="M1198,504 L1270,495" stroke="#f6b070" stroke-width="1.6" opacity="0.35" filter="url(#b07)"/><path d="M1198,511 L1270,501" stroke="#f6b070" stroke-width="1.6" opacity="0.35" filter="url(#b07)"/><path d="M1198,518 L1270,508" stroke="#f6b070" stroke-width="1.6" opacity="0.35" filter="url(#b07)"/><path d="M1198,525 L1270,515" stroke="#f6b070" stroke-width="1.6" opacity="0.35" filter="url(#b07)"/><path d="M1198,532 L1270,523" stroke="#f6b070" stroke-width="1.6" opacity="0.35" filter="url(#b07)"/><path d="M1198,539 L1270,530" stroke="#f6b070" stroke-width="1.6" opacity="0.35" filter="url(#b07)"/><path d="M1200.0,494.0 C1205.0,493.2 1220.0,490.3 1230.0,489.0 C1240.0,487.7 1250.0,486.3 1260.0,486.0 C1270.0,485.7 1285.0,486.8 1290.0,487.0" fill="none" stroke="#a88ab8" stroke-width="6" opacity="0.55" filter="url(#b2)"/><path d="M1232.0,542.0 C1237.0,540.0 1251.5,534.0 1262.0,530.0 C1272.5,526.0 1285.3,520.7 1295.0,518.0 C1304.7,515.3 1311.7,514.3 1320.0,514.0 C1328.3,513.7 1339.0,515.0 1345.0,516.0 C1351.0,517.0 1354.2,519.3 1356.0,520.0" fill="none" stroke="#6e2888" stroke-width="7" filter="url(#b1)"/><path d="M1200.0,536.0 C1204.2,534.5 1216.7,530.2 1225.0,527.0 C1233.3,523.8 1241.7,520.5 1250.0,517.0 C1258.3,513.5 1267.5,509.0 1275.0,506.0 C1282.5,503.0 1291.7,500.2 1295.0,499.0" fill="none" stroke="#f2b050" stroke-width="12" filter="url(#b5)"/><path d="M1235.0,538.0 C1239.2,535.5 1251.7,528.5 1260.0,523.0 C1268.3,517.5 1278.3,509.3 1285.0,505.0 C1291.7,500.7 1294.7,498.3 1300.0,497.0 C1305.3,495.7 1311.3,496.2 1317.0,497.0 C1322.7,497.8 1329.3,500.0 1334.0,501.5 C1338.7,503.0 1341.2,504.1 1345.0,506.0 C1348.8,507.9 1352.7,510.3 1356.5,513.0 C1360.3,515.7 1364.2,519.0 1368.0,522.0 C1371.8,525.0 1375.2,528.1 1379.0,531.0 C1382.8,533.9 1387.2,537.0 1391.0,539.5 C1394.8,542.0 1400.2,544.9 1402.0,546.0" fill="none" stroke="#f4c052" stroke-width="14" filter="url(#b5)"/><path d="M1260.0,523.0 C1264.2,520.0 1278.3,509.3 1285.0,505.0 C1291.7,500.7 1294.7,498.3 1300.0,497.0 C1305.3,495.7 1311.3,496.2 1317.0,497.0 C1322.7,497.8 1329.3,500.0 1334.0,501.5 C1338.7,503.0 1341.2,504.1 1345.0,506.0 C1348.8,507.9 1352.7,510.3 1356.5,513.0 C1360.3,515.7 1364.2,519.0 1368.0,522.0 C1371.8,525.0 1375.2,528.1 1379.0,531.0 C1382.8,533.9 1389.0,538.1 1391.0,539.5" fill="none" stroke="#f8e49a" stroke-width="7" filter="url(#b2)"/><path d="M1283.0,500.0 C1285.8,499.2 1294.3,496.0 1300.0,495.5 C1305.7,495.0 1311.3,496.0 1317.0,497.0 C1322.7,498.0 1329.3,500.0 1334.0,501.5 C1338.7,503.0 1341.2,504.1 1345.0,506.0 C1348.8,507.9 1352.7,510.3 1356.5,513.0 C1360.3,515.7 1364.1,518.8 1368.0,522.0 C1371.9,525.2 1378.0,530.3 1380.0,532.0" fill="none" stroke="#fffdf0" stroke-width="4" filter="url(#b1)"/><ellipse cx="1301" cy="497" rx="16" ry="7" fill="#fffbe8" filter="url(#b3)"/><path d="M1478.0,503.0 C1480.8,502.2 1489.2,499.2 1495.0,498.0 C1500.8,496.8 1506.3,496.1 1513.0,496.0 C1519.7,495.9 1527.3,496.4 1535.0,497.5 C1542.7,498.6 1550.7,501.2 1559.0,502.5 C1567.3,503.8 1576.5,504.8 1585.0,505.0 C1593.5,505.2 1601.7,504.7 1610.0,504.0 C1618.3,503.3 1630.8,501.5 1635.0,501.0" fill="none" stroke="#f2c050" stroke-width="16" filter="url(#b5)"/><path d="M1478.0,503.0 C1480.8,502.2 1489.2,499.2 1495.0,498.0 C1500.8,496.8 1506.3,496.1 1513.0,496.0 C1519.7,495.9 1527.3,496.4 1535.0,497.5 C1542.7,498.6 1550.7,501.2 1559.0,502.5 C1567.3,503.8 1580.7,504.6 1585.0,505.0" fill="none" stroke="#f6e090" stroke-width="7" filter="url(#b2)"/><ellipse cx="1514" cy="496" rx="24" ry="7.5" fill="#fffef4" filter="url(#b3)"/><path d="M1596,507.0 Q1615,511.0 1635,506.0" stroke="#d05060" stroke-width="2" fill="none" opacity="0.6" filter="url(#b07)"/><path d="M1596,514.5 Q1615,518.5 1635,513.5" stroke="#d05060" stroke-width="2" fill="none" opacity="0.6" filter="url(#b07)"/><path d="M1596,522.0 Q1615,526.0 1635,521.0" stroke="#d05060" stroke-width="2" fill="none" opacity="0.6" filter="url(#b07)"/><path d="M1596,529.5 Q1615,533.5 1635,528.5" stroke="#d05060" stroke-width="2" fill="none" opacity="0.6" filter="url(#b07)"/><path d="M1596,537.0 Q1615,541.0 1635,536.0" stroke="#d05060" stroke-width="2" fill="none" opacity="0.6" filter="url(#b07)"/><path d="M1596,544.5 Q1615,548.5 1635,543.5" stroke="#d05060" stroke-width="2" fill="none" opacity="0.6" filter="url(#b07)"/><path d="M1196.0,596.0 C1199.5,593.2 1211.2,584.0 1217.0,579.3 C1222.8,574.6 1225.5,571.8 1230.7,567.6 C1235.9,563.4 1242.2,558.6 1248.0,554.3 C1253.8,550.0 1260.1,545.6 1265.4,541.9 C1270.7,538.2 1275.0,535.4 1280.0,532.2 C1285.0,529.0 1290.4,525.3 1295.6,522.6 C1300.8,519.9 1308.4,517.1 1311.0,516.0" fill="none" stroke="#a8406e" stroke-width="3" filter="url(#b07)"/><path d="M1637.0,593.0 C1631.1,589.0 1613.5,576.8 1601.5,569.0 C1589.5,561.2 1575.9,553.3 1565.0,546.5 C1554.1,539.7 1546.0,532.8 1536.0,528.0 C1526.0,523.2 1510.2,519.7 1505.0,518.0" fill="none" stroke="#5a2088" stroke-width="4.5" filter="url(#b2)"/><path d="M1610.0,590.0 C1605.8,586.3 1593.3,575.0 1585.0,568.0 C1576.7,561.0 1564.2,551.3 1560.0,548.0" fill="none" stroke="#4a1878" stroke-width="2.5" opacity="0.6" filter="url(#b1)"/></g>
<use href="#fhalf" transform="rotate(180 1416.0 592.7)"/>
</g>
<line x1="1192" y1="567.6" x2="1643" y2="567.6" stroke="#e2e2e2" stroke-width="2" stroke-dasharray="5.7 5"/>
<line x1="1205.3" y1="758.0" x2="1205.3" y2="752.0" stroke="#000" stroke-width="3"/>
<line x1="1416.6" y1="758.0" x2="1416.6" y2="752.0" stroke="#000" stroke-width="3"/>
<line x1="1627.8" y1="758.0" x2="1627.8" y2="752.0" stroke="#000" stroke-width="3"/>
<line x1="1191.0" y1="438.8" x2="1197.0" y2="438.8" stroke="#000" stroke-width="3"/>
<line x1="1191.0" y1="589.8" x2="1197.0" y2="589.8" stroke="#000" stroke-width="3"/>
<line x1="1191.0" y1="740.8" x2="1197.0" y2="740.8" stroke="#000" stroke-width="3"/>
<rect x="1191.0" y="421.3" width="452.00" height="336.70" fill="none" stroke="#000" stroke-width="2.8"/>
<rect x="1663.8" y="448.20" width="29.7" height="28.86" fill="#ffffff"/>
<rect x="1663.8" y="476.76" width="29.7" height="28.86" fill="#f4eba6"/>
<rect x="1663.8" y="505.32" width="29.7" height="28.86" fill="#ebcf69"/>
<rect x="1663.8" y="533.88" width="29.7" height="28.86" fill="#eba83a"/>
<rect x="1663.8" y="562.44" width="29.7" height="28.86" fill="#e9842e"/>
<rect x="1663.8" y="591.00" width="29.7" height="28.86" fill="#e05f2c"/>
<rect x="1663.8" y="619.56" width="29.7" height="28.86" fill="#c8414c"/>
<rect x="1663.8" y="648.12" width="29.7" height="28.86" fill="#7b2b7a"/>
<rect x="1663.8" y="676.68" width="29.7" height="28.86" fill="#3b1457"/>
<rect x="1663.8" y="705.24" width="29.7" height="28.86" fill="#050505"/>
<rect x="1663.8" y="448.2" width="29.7" height="285.6" fill="none" stroke="#3b4a72" stroke-width="1.3"/>
<path d="M1204.3,939.7 L1204.6,939.6 L1204.9,939.6 L1205.2,939.6 L1205.5,939.6 L1205.8,939.5 L1206.1,939.5 L1206.4,939.5 L1206.7,939.5 L1207.0,939.4 L1207.3,939.4 L1207.6,939.4 L1207.9,939.3 L1208.2,939.3 L1208.5,939.3 L1208.8,939.2 L1209.1,939.2 L1209.4,939.1 L1209.8,939.1 L1210.1,939.0 L1210.4,939.0 L1210.7,938.9 L1211.0,938.9 L1211.3,938.8 L1211.6,938.8 L1211.9,938.7 L1212.2,938.6 L1212.5,938.6 L1212.8,938.5 L1213.1,938.4 L1213.4,938.3 L1213.7,938.3 L1214.0,938.2 L1214.3,938.1 L1214.6,938.0 L1214.9,937.9 L1215.2,937.8 L1215.5,937.7 L1215.8,937.5 L1216.1,937.4 L1216.4,937.3 L1216.7,937.1 L1217.0,937.0 L1217.3,936.8 L1217.6,936.6 L1217.9,936.4 L1218.2,936.2 L1218.5,936.0 L1218.9,935.8 L1219.2,935.5 L1219.5,935.3 L1219.8,935.0 L1220.1,934.7 L1220.4,934.4 L1220.7,934.0 L1221.0,933.6 L1221.3,933.2 L1221.6,932.7 L1221.9,932.2 L1222.2,931.6 L1222.5,930.9 L1222.8,930.2 L1223.1,929.4 L1223.4,928.5 L1223.7,927.5 L1224.0,926.4 L1224.3,925.1 L1224.6,923.6 L1224.9,922.0 L1225.2,920.0 L1225.5,917.8 L1225.8,915.1 L1226.1,912.1 L1226.4,908.5 L1226.7,904.3 L1227.0,899.4 L1227.3,893.7 L1227.6,887.0 L1228.0,879.2 L1228.3,870.3 L1228.6,860.3 L1228.9,849.6 L1229.2,838.7 L1229.5,828.6 L1229.8,820.5 L1230.1,815.7 L1230.4,815.1 L1230.7,818.9 L1231.0,826.3 L1231.3,836.2 L1231.6,847.3 L1231.9,858.5 L1232.2,869.1 L1232.5,878.7 L1232.8,887.2 L1233.1,894.6 L1233.4,900.9 L1233.7,906.4 L1234.0,911.1 L1234.3,915.1 L1234.6,918.6 L1234.9,921.6 L1235.2,924.2 L1235.5,926.5 L1235.8,928.5 L1236.1,930.2 L1236.4,931.7 L1236.7,933.1 L1237.0,934.3 L1237.4,935.3 L1237.7,936.3 L1238.0,937.2 L1238.3,937.9 L1238.6,938.6 L1238.9,939.3 L1239.2,939.8 L1239.5,940.4 L1239.8,940.8 L1240.1,941.3 L1240.4,941.7 L1240.7,942.0 L1241.0,942.4 L1241.3,942.7 L1241.6,943.0 L1241.9,943.2 L1242.2,943.5 L1242.5,943.7 L1242.8,943.9 L1243.1,944.1 L1243.4,944.3 L1243.7,944.5 L1244.0,944.7 L1244.3,944.8 L1244.6,945.0 L1244.9,945.1 L1245.2,945.2 L1245.5,945.4 L1245.8,945.5 L1246.1,945.6 L1246.5,945.7 L1246.8,945.8 L1247.1,945.9 L1247.4,946.0 L1247.7,946.0 L1248.0,946.1 L1248.3,946.2 L1248.6,946.3 L1248.9,946.3 L1249.2,946.4 L1249.5,946.5 L1249.8,946.5 L1250.1,946.6 L1250.4,946.6 L1250.7,946.7 L1251.0,946.7 L1251.3,946.8 L1251.6,946.8 L1251.9,946.9 L1252.2,946.9 L1252.5,947.0 L1252.8,947.0 L1253.1,947.0 L1253.4,947.1 L1253.7,947.1 L1254.0,947.1 L1254.3,947.2 L1254.6,947.2 L1254.9,947.2 L1255.2,947.3 L1255.6,947.3 L1255.9,947.3 L1256.2,947.3 L1256.5,947.4 L1256.8,947.4 L1257.1,947.4 L1257.4,947.4 L1257.7,947.5 L1258.0,947.5 L1258.3,947.5 L1258.6,947.5 L1258.9,947.5 L1259.2,947.6 L1259.5,947.6 L1259.8,947.6 L1260.1,947.6 L1260.4,947.6 L1260.7,947.6 L1261.0,947.7 L1261.3,947.7 L1261.6,947.7 L1261.9,947.7 L1262.2,947.7 L1262.5,947.7 L1262.8,947.7 L1263.1,947.8 L1263.4,947.8 L1263.7,947.8 L1264.0,947.8 L1264.3,947.8 L1264.6,947.8 L1265.0,947.8 L1265.3,947.8 L1265.6,947.9 L1265.9,947.9 L1266.2,947.9 L1266.5,947.9 L1266.8,947.9 L1267.1,947.9 L1267.4,947.9 L1267.7,947.9 L1268.0,947.9 L1268.3,947.9 L1268.6,948.0 L1268.9,948.0 L1269.2,948.0 L1269.5,948.0 L1269.8,948.0 L1270.1,948.0 L1270.4,948.0 L1270.7,948.0 L1271.0,948.0 L1271.3,948.0 L1271.6,948.0 L1271.9,948.0 L1272.2,948.0 L1272.5,948.1 L1272.8,948.1 L1273.1,948.1 L1273.4,948.1 L1273.7,948.1 L1274.1,948.1 L1274.4,948.1 L1274.7,948.1 L1275.0,948.1 L1275.3,948.1 L1275.6,948.1 L1275.9,948.1 L1276.2,948.1 L1276.5,948.1 L1276.8,948.1 L1277.1,948.1 L1277.4,948.1 L1277.7,948.2 L1278.0,948.2 L1278.3,948.2 L1278.6,948.2 L1278.9,948.2 L1279.2,948.2 L1279.5,948.2 L1279.8,948.2 L1280.1,948.2 L1280.4,948.2 L1280.7,948.2 L1281.0,948.2 L1281.3,948.2 L1281.6,948.2 L1281.9,948.2 L1282.2,948.2 L1282.5,948.2 L1282.8,948.2 L1283.2,948.2 L1283.5,948.2 L1283.8,948.2 L1284.1,948.2 L1284.4,948.2 L1284.7,948.3 L1285.0,948.3 L1285.3,948.3 L1285.6,948.3 L1285.9,948.3 L1286.2,948.3 L1286.5,948.3 L1286.8,948.3 L1287.1,948.3 L1287.4,948.3 L1287.7,948.3 L1288.0,948.3 L1288.3,948.3 L1288.6,948.3 L1288.9,948.3 L1289.2,948.3 L1289.5,948.3 L1289.8,948.3 L1290.1,948.3 L1290.4,948.3 L1290.7,948.3 L1291.0,948.3 L1291.3,948.3 L1291.6,948.3 L1291.9,948.3 L1292.2,948.3 L1292.6,948.3 L1292.9,948.3 L1293.2,948.3 L1293.5,948.3 L1293.8,948.3 L1294.1,948.3 L1294.4,948.4 L1294.7,948.4 L1295.0,948.4 L1295.3,948.4 L1295.6,948.4 L1295.9,948.4 L1296.2,948.4 L1296.5,948.4 L1296.8,948.4 L1297.1,948.4 L1297.4,948.4 L1297.7,948.4 L1298.0,948.4 L1298.3,948.4 L1298.6,948.4 L1298.9,948.4 L1299.2,948.4 L1299.5,948.4 L1299.8,948.4 L1300.1,948.4 L1300.4,948.4 L1300.7,948.4 L1301.0,948.4 L1301.3,948.4 L1301.7,948.4 L1302.0,948.4 L1302.3,948.4 L1302.6,948.4 L1302.9,948.4 L1303.2,948.4 L1303.5,948.4 L1303.8,948.4 L1304.1,948.4 L1304.4,948.4 L1304.7,948.4 L1305.0,948.4 L1305.3,948.4 L1305.6,948.4 L1305.9,948.4 L1306.2,948.4 L1306.5,948.4 L1306.8,948.4 L1307.1,948.4 L1307.4,948.4 L1307.7,948.4 L1308.0,948.4 L1308.3,948.4 L1308.6,948.4 L1308.9,948.4 L1309.2,948.5 L1309.5,948.5 L1309.8,948.5 L1310.1,948.5 L1310.4,948.5 L1310.8,948.5 L1311.1,948.5 L1311.4,948.5 L1311.7,948.5 L1312.0,948.5 L1312.3,948.5 L1312.6,948.5 L1312.9,948.5 L1313.2,948.5 L1313.5,948.5 L1313.8,948.5 L1314.1,948.5 L1314.4,948.5 L1314.7,948.5 L1315.0,948.5 L1315.3,948.5 L1315.6,948.5 L1315.9,948.5 L1316.2,948.5 L1316.5,948.5 L1316.8,948.5 L1317.1,948.5 L1317.4,948.5 L1317.7,948.5 L1318.0,948.5 L1318.3,948.5 L1318.6,948.5 L1318.9,948.5 L1319.2,948.5 L1319.5,948.5 L1319.8,948.5 L1320.2,948.5 L1320.5,948.5 L1320.8,948.5 L1321.1,948.5 L1321.4,948.5 L1321.7,948.5 L1322.0,948.5 L1322.3,948.5 L1322.6,948.5 L1322.9,948.5 L1323.2,948.5 L1323.5,948.5 L1323.8,948.5 L1324.1,948.5 L1324.4,948.5 L1324.7,948.5 L1325.0,948.5 L1325.3,948.5 L1325.6,948.5 L1325.9,948.5 L1326.2,948.5 L1326.5,948.5 L1326.8,948.5 L1327.1,948.5 L1327.4,948.5 L1327.7,948.5 L1328.0,948.5 L1328.3,948.5 L1328.6,948.5 L1328.9,948.5 L1329.3,948.5 L1329.6,948.5 L1329.9,948.5 L1330.2,948.5 L1330.5,948.5 L1330.8,948.5 L1331.1,948.5 L1331.4,948.5 L1331.7,948.5 L1332.0,948.5 L1332.3,948.5 L1332.6,948.5 L1332.9,948.6 L1333.2,948.6 L1333.5,948.6 L1333.8,948.6 L1334.1,948.6 L1334.4,948.6 L1334.7,948.6 L1335.0,948.6 L1335.3,948.6 L1335.6,948.6 L1335.9,948.6 L1336.2,948.6 L1336.5,948.6 L1336.8,948.6 L1337.1,948.6 L1337.4,948.6 L1337.7,948.6 L1338.0,948.6 L1338.3,948.6 L1338.7,948.6 L1339.0,948.6 L1339.3,948.6 L1339.6,948.6 L1339.9,948.6 L1340.2,948.6 L1340.5,948.6 L1340.8,948.6 L1341.1,948.6 L1341.4,948.6 L1341.7,948.6 L1342.0,948.6 L1342.3,948.6 L1342.6,948.6 L1342.9,948.6 L1343.2,948.6 L1343.5,948.6 L1343.8,948.6 L1344.1,948.6 L1344.4,948.6 L1344.7,948.6 L1345.0,948.6 L1345.3,948.6 L1345.6,948.6 L1345.9,948.6 L1346.2,948.6 L1346.5,948.6 L1346.8,948.6 L1347.1,948.6 L1347.4,948.6 L1347.8,948.6 L1348.1,948.6 L1348.4,948.6 L1348.7,948.6 L1349.0,948.6 L1349.3,948.6 L1349.6,948.6 L1349.9,948.6 L1350.2,948.6 L1350.5,948.6 L1350.8,948.6 L1351.1,948.6 L1351.4,948.6 L1351.7,948.6 L1352.0,948.6 L1352.3,948.6 L1352.6,948.6 L1352.9,948.6 L1353.2,948.6 L1353.5,948.6 L1353.8,948.6 L1354.1,948.6 L1354.4,948.6 L1354.7,948.6 L1355.0,948.6 L1355.3,948.6 L1355.6,948.6 L1355.9,948.6 L1356.2,948.6 L1356.5,948.6 L1356.9,948.6 L1357.2,948.6 L1357.5,948.6 L1357.8,948.6 L1358.1,948.6 L1358.4,948.6 L1358.7,948.6 L1359.0,948.6 L1359.3,948.6 L1359.6,948.6 L1359.9,948.6 L1360.2,948.6 L1360.5,948.5 L1360.8,948.5 L1361.1,948.5 L1361.4,948.5 L1361.7,948.5 L1362.0,948.5 L1362.3,948.5 L1362.6,948.5 L1362.9,948.5 L1363.2,948.5 L1363.5,948.5 L1363.8,948.5 L1364.1,948.5 L1364.4,948.5 L1364.7,948.5 L1365.0,948.5 L1365.3,948.5 L1365.6,948.5 L1365.9,948.5 L1366.3,948.5 L1366.6,948.5 L1366.9,948.5 L1367.2,948.5 L1367.5,948.4 L1367.8,948.4 L1368.1,948.4 L1368.4,948.4 L1368.7,948.4 L1369.0,948.4 L1369.3,948.4 L1369.6,948.4 L1369.9,948.4 L1370.2,948.4 L1370.5,948.4 L1370.8,948.4 L1371.1,948.3 L1371.4,948.3 L1371.7,948.3 L1372.0,948.3 L1372.3,948.3 L1372.6,948.3 L1372.9,948.3 L1373.2,948.3 L1373.5,948.2 L1373.8,948.2 L1374.1,948.2 L1374.4,948.2 L1374.7,948.2 L1375.0,948.2 L1375.4,948.2 L1375.7,948.1 L1376.0,948.1 L1376.3,948.1 L1376.6,948.1 L1376.9,948.1 L1377.2,948.1 L1377.5,948.0 L1377.8,948.0 L1378.1,948.0 L1378.4,948.0 L1378.7,948.0 L1379.0,947.9 L1379.3,947.9 L1379.6,947.9 L1379.9,947.9 L1380.2,947.9 L1380.5,947.8 L1380.8,947.8 L1381.1,947.8 L1381.4,947.8 L1381.7,947.7 L1382.0,947.7 L1382.3,947.7 L1382.6,947.7 L1382.9,947.6 L1383.2,947.6 L1383.5,947.6 L1383.8,947.5 L1384.1,947.5 L1384.5,947.5 L1384.8,947.5 L1385.1,947.4 L1385.4,947.4 L1385.7,947.4 L1386.0,947.3 L1386.3,947.3 L1386.6,947.3 L1386.9,947.2 L1387.2,947.2 L1387.5,947.2 L1387.8,947.1 L1388.1,947.1 L1388.4,947.1 L1388.7,947.0 L1389.0,947.0 L1389.3,947.0 L1389.6,946.9 L1389.9,946.9 L1390.2,946.8 L1390.5,946.8 L1390.8,946.8 L1391.1,946.7 L1391.4,946.7 L1391.7,946.6 L1392.0,946.6 L1392.3,946.6 L1392.6,946.5 L1392.9,946.5 L1393.2,946.4 L1393.5,946.4 L1393.9,946.4 L1394.2,946.3 L1394.5,946.3 L1394.8,946.2 L1395.1,946.2 L1395.4,946.1 L1395.7,946.1 L1396.0,946.1 L1396.3,946.0 L1396.6,946.0 L1396.9,945.9 L1397.2,945.9 L1397.5,945.8 L1397.8,945.8 L1398.1,945.8 L1398.4,945.7 L1398.7,945.7 L1399.0,945.6 L1399.3,945.6 L1399.6,945.5 L1399.9,945.5 L1400.2,945.5 L1400.5,945.4 L1400.8,945.4 L1401.1,945.3 L1401.4,945.3 L1401.7,945.2 L1402.0,945.2 L1402.3,945.2 L1402.6,945.1 L1403.0,945.1 L1403.3,945.0 L1403.6,945.0 L1403.9,945.0 L1404.2,944.9 L1404.5,944.9 L1404.8,944.9 L1405.1,944.8 L1405.4,944.8 L1405.7,944.8 L1406.0,944.7 L1406.3,944.7 L1406.6,944.7 L1406.9,944.6 L1407.2,944.6 L1407.5,944.6 L1407.8,944.5 L1408.1,944.5 L1408.4,944.5 L1408.7,944.4 L1409.0,944.4 L1409.3,944.4 L1409.6,944.4 L1409.9,944.3 L1410.2,944.3 L1410.5,944.3 L1410.8,944.3 L1411.1,944.3 L1411.4,944.2 L1411.7,944.2 L1412.1,944.2 L1412.4,944.2 L1412.7,944.2 L1413.0,944.2 L1413.3,944.1 L1413.6,944.1 L1413.9,944.1 L1414.2,944.1 L1414.5,944.1 L1414.8,944.1 L1415.1,944.1 L1415.4,944.1 L1415.7,944.1 L1416.0,944.1 L1416.3,944.1 L1416.6,944.1 L1416.9,944.1 L1417.2,944.1 L1417.5,944.1 L1417.8,944.1 L1418.1,944.1 L1418.4,944.1 L1418.7,944.1 L1419.0,944.1 L1419.3,944.1 L1419.6,944.1 L1419.9,944.1 L1420.2,944.2 L1420.5,944.2 L1420.8,944.2 L1421.1,944.2 L1421.5,944.2 L1421.8,944.2 L1422.1,944.3 L1422.4,944.3 L1422.7,944.3 L1423.0,944.3 L1423.3,944.3 L1423.6,944.4 L1423.9,944.4 L1424.2,944.4 L1424.5,944.4 L1424.8,944.5 L1425.1,944.5 L1425.4,944.5 L1425.7,944.6 L1426.0,944.6 L1426.3,944.6 L1426.6,944.6 L1426.9,944.7 L1427.2,944.7 L1427.5,944.7 L1427.8,944.8 L1428.1,944.8 L1428.4,944.8 L1428.7,944.9 L1429.0,944.9 L1429.3,945.0 L1429.6,945.0 L1429.9,945.0 L1430.2,945.1 L1430.6,945.1 L1430.9,945.2 L1431.2,945.2 L1431.5,945.2 L1431.8,945.3 L1432.1,945.3 L1432.4,945.4 L1432.7,945.4 L1433.0,945.4 L1433.3,945.5 L1433.6,945.5 L1433.9,945.6 L1434.2,945.6 L1434.5,945.7 L1434.8,945.7 L1435.1,945.7 L1435.4,945.8 L1435.7,945.8 L1436.0,945.9 L1436.3,945.9 L1436.6,946.0 L1436.9,946.0 L1437.2,946.0 L1437.5,946.1 L1437.8,946.1 L1438.1,946.2 L1438.4,946.2 L1438.7,946.3 L1439.0,946.3 L1439.3,946.3 L1439.7,946.4 L1440.0,946.4 L1440.3,946.5 L1440.6,946.5 L1440.9,946.5 L1441.2,946.6 L1441.5,946.6 L1441.8,946.7 L1442.1,946.7 L1442.4,946.7 L1442.7,946.8 L1443.0,946.8 L1443.3,946.9 L1443.6,946.9 L1443.9,946.9 L1444.2,947.0 L1444.5,947.0 L1444.8,947.0 L1445.1,947.1 L1445.4,947.1 L1445.7,947.1 L1446.0,947.2 L1446.3,947.2 L1446.6,947.2 L1446.9,947.3 L1447.2,947.3 L1447.5,947.3 L1447.8,947.4 L1448.1,947.4 L1448.4,947.4 L1448.7,947.5 L1449.1,947.5 L1449.4,947.5 L1449.7,947.5 L1450.0,947.6 L1450.3,947.6 L1450.6,947.6 L1450.9,947.7 L1451.2,947.7 L1451.5,947.7 L1451.8,947.7 L1452.1,947.8 L1452.4,947.8 L1452.7,947.8 L1453.0,947.8 L1453.3,947.8 L1453.6,947.9 L1453.9,947.9 L1454.2,947.9 L1454.5,947.9 L1454.8,948.0 L1455.1,948.0 L1455.4,948.0 L1455.7,948.0 L1456.0,948.0 L1456.3,948.0 L1456.6,948.1 L1456.9,948.1 L1457.2,948.1 L1457.5,948.1 L1457.8,948.1 L1458.2,948.1 L1458.5,948.2 L1458.8,948.2 L1459.1,948.2 L1459.4,948.2 L1459.7,948.2 L1460.0,948.2 L1460.3,948.2 L1460.6,948.2 L1460.9,948.3 L1461.2,948.3 L1461.5,948.3 L1461.8,948.3 L1462.1,948.3 L1462.4,948.3 L1462.7,948.3 L1463.0,948.3 L1463.3,948.3 L1463.6,948.3 L1463.9,948.4 L1464.2,948.4 L1464.5,948.4 L1464.8,948.4 L1465.1,948.4 L1465.4,948.4 L1465.7,948.4 L1466.0,948.4 L1466.3,948.4 L1466.6,948.4 L1466.9,948.4 L1467.3,948.4 L1467.6,948.4 L1467.9,948.4 L1468.2,948.4 L1468.5,948.4 L1468.8,948.5 L1469.1,948.5 L1469.4,948.5 L1469.7,948.5 L1470.0,948.5 L1470.3,948.5 L1470.6,948.5 L1470.9,948.5 L1471.2,948.5 L1471.5,948.5 L1471.8,948.5 L1472.1,948.5 L1472.4,948.5 L1472.7,948.5 L1473.0,948.5 L1473.3,948.5 L1473.6,948.5 L1473.9,948.5 L1474.2,948.5 L1474.5,948.5 L1474.8,948.5 L1475.1,948.5 L1475.4,948.5 L1475.7,948.5 L1476.0,948.5 L1476.3,948.5 L1476.7,948.5 L1477.0,948.5 L1477.3,948.5 L1477.6,948.5 L1477.9,948.5 L1478.2,948.5 L1478.5,948.5 L1478.8,948.5 L1479.1,948.5 L1479.4,948.5 L1479.7,948.5 L1480.0,948.5 L1480.3,948.5 L1480.6,948.5 L1480.9,948.5 L1481.2,948.5 L1481.5,948.5 L1481.8,948.5 L1482.1,948.5 L1482.4,948.5 L1482.7,948.5 L1483.0,948.5 L1483.3,948.5 L1483.6,948.5 L1483.9,948.5 L1484.2,948.5 L1484.5,948.5 L1484.8,948.5 L1485.1,948.5 L1485.4,948.5 L1485.8,948.5 L1486.1,948.5 L1486.4,948.5 L1486.7,948.5 L1487.0,948.5 L1487.3,948.5 L1487.6,948.5 L1487.9,948.5 L1488.2,948.5 L1488.5,948.5 L1488.8,948.5 L1489.1,948.5 L1489.4,948.5 L1489.7,948.5 L1490.0,948.5 L1490.3,948.5 L1490.6,948.5 L1490.9,948.5 L1491.2,948.5 L1491.5,948.5 L1491.8,948.5 L1492.1,948.5 L1492.4,948.5 L1492.7,948.5 L1493.0,948.5 L1493.3,948.5 L1493.6,948.5 L1493.9,948.5 L1494.2,948.5 L1494.5,948.5 L1494.9,948.5 L1495.2,948.5 L1495.5,948.5 L1495.8,948.5 L1496.1,948.5 L1496.4,948.5 L1496.7,948.5 L1497.0,948.5 L1497.3,948.5 L1497.6,948.5 L1497.9,948.5 L1498.2,948.5 L1498.5,948.5 L1498.8,948.5 L1499.1,948.5 L1499.4,948.5 L1499.7,948.4 L1500.0,948.4 L1500.3,948.4 L1500.6,948.4 L1500.9,948.4 L1501.2,948.4 L1501.5,948.4 L1501.8,948.4 L1502.1,948.4 L1502.4,948.4 L1502.7,948.4 L1503.0,948.4 L1503.3,948.4 L1503.6,948.4 L1503.9,948.4 L1504.3,948.4 L1504.6,948.4 L1504.9,948.4 L1505.2,948.4 L1505.5,948.4 L1505.8,948.4 L1506.1,948.4 L1506.4,948.4 L1506.7,948.4 L1507.0,948.4 L1507.3,948.4 L1507.6,948.4 L1507.9,948.4 L1508.2,948.4 L1508.5,948.4 L1508.8,948.4 L1509.1,948.4 L1509.4,948.4 L1509.7,948.4 L1510.0,948.4 L1510.3,948.4 L1510.6,948.4 L1510.9,948.4 L1511.2,948.4 L1511.5,948.4 L1511.8,948.4 L1512.1,948.4 L1512.4,948.4 L1512.7,948.4 L1513.0,948.4 L1513.4,948.4 L1513.7,948.4 L1514.0,948.4 L1514.3,948.3 L1514.6,948.3 L1514.9,948.3 L1515.2,948.3 L1515.5,948.3 L1515.8,948.3 L1516.1,948.3 L1516.4,948.3 L1516.7,948.3 L1517.0,948.3 L1517.3,948.3 L1517.6,948.3 L1517.9,948.3 L1518.2,948.3 L1518.5,948.3 L1518.8,948.3 L1519.1,948.3 L1519.4,948.3 L1519.7,948.3 L1520.0,948.3 L1520.3,948.3 L1520.6,948.3 L1520.9,948.3 L1521.2,948.3 L1521.5,948.3 L1521.8,948.3 L1522.1,948.3 L1522.4,948.3 L1522.8,948.3 L1523.1,948.3 L1523.4,948.3 L1523.7,948.3 L1524.0,948.3 L1524.3,948.3 L1524.6,948.3 L1524.9,948.2 L1525.2,948.2 L1525.5,948.2 L1525.8,948.2 L1526.1,948.2 L1526.4,948.2 L1526.7,948.2 L1527.0,948.2 L1527.3,948.2 L1527.6,948.2 L1527.9,948.2 L1528.2,948.2 L1528.5,948.2 L1528.8,948.2 L1529.1,948.2 L1529.4,948.2 L1529.7,948.2 L1530.0,948.2 L1530.3,948.2 L1530.6,948.2 L1530.9,948.2 L1531.2,948.2 L1531.5,948.2 L1531.9,948.2 L1532.2,948.2 L1532.5,948.2 L1532.8,948.1 L1533.1,948.1 L1533.4,948.1 L1533.7,948.1 L1534.0,948.1 L1534.3,948.1 L1534.6,948.1 L1534.9,948.1 L1535.2,948.1 L1535.5,948.1 L1535.8,948.1 L1536.1,948.1 L1536.4,948.1 L1536.7,948.1 L1537.0,948.1 L1537.3,948.1 L1537.6,948.1 L1537.9,948.1 L1538.2,948.1 L1538.5,948.1 L1538.8,948.0 L1539.1,948.0 L1539.4,948.0 L1539.7,948.0 L1540.0,948.0 L1540.3,948.0 L1540.6,948.0 L1541.0,948.0 L1541.3,948.0 L1541.6,948.0 L1541.9,948.0 L1542.2,948.0 L1542.5,948.0 L1542.8,948.0 L1543.1,948.0 L1543.4,948.0 L1543.7,948.0 L1544.0,947.9 L1544.3,947.9 L1544.6,947.9 L1544.9,947.9 L1545.2,947.9 L1545.5,947.9 L1545.8,947.9 L1546.1,947.9 L1546.4,947.9 L1546.7,947.9 L1547.0,947.9 L1547.3,947.9 L1547.6,947.9 L1547.9,947.8 L1548.2,947.8 L1548.5,947.8 L1548.8,947.8 L1549.1,947.8 L1549.4,947.8 L1549.7,947.8 L1550.0,947.8 L1550.4,947.8 L1550.7,947.8 L1551.0,947.8 L1551.3,947.7 L1551.6,947.7 L1551.9,947.7 L1552.2,947.7 L1552.5,947.7 L1552.8,947.7 L1553.1,947.7 L1553.4,947.7 L1553.7,947.7 L1554.0,947.7 L1554.3,947.6 L1554.6,947.6 L1554.9,947.6 L1555.2,947.6 L1555.5,947.6 L1555.8,947.6 L1556.1,947.6 L1556.4,947.6 L1556.7,947.5 L1557.0,947.5 L1557.3,947.5 L1557.6,947.5 L1557.9,947.5 L1558.2,947.5 L1558.5,947.5 L1558.8,947.4 L1559.1,947.4 L1559.5,947.4 L1559.8,947.4 L1560.1,947.4 L1560.4,947.4 L1560.7,947.3 L1561.0,947.3 L1561.3,947.3 L1561.6,947.3 L1561.9,947.3 L1562.2,947.3 L1562.5,947.2 L1562.8,947.2 L1563.1,947.2 L1563.4,947.2 L1563.7,947.2 L1564.0,947.1 L1564.3,947.1 L1564.6,947.1 L1564.9,947.1 L1565.2,947.0 L1565.5,947.0 L1565.8,947.0 L1566.1,947.0 L1566.4,947.0 L1566.7,946.9 L1567.0,946.9 L1567.3,946.9 L1567.6,946.8 L1567.9,946.8 L1568.2,946.8 L1568.6,946.8 L1568.9,946.7 L1569.2,946.7 L1569.5,946.7 L1569.8,946.6 L1570.1,946.6 L1570.4,946.6 L1570.7,946.5 L1571.0,946.5 L1571.3,946.5 L1571.6,946.4 L1571.9,946.4 L1572.2,946.3 L1572.5,946.3 L1572.8,946.2 L1573.1,946.2 L1573.4,946.2 L1573.7,946.1 L1574.0,946.1 L1574.3,946.0 L1574.6,946.0 L1574.9,945.9 L1575.2,945.9 L1575.5,945.8 L1575.8,945.7 L1576.1,945.7 L1576.4,945.6 L1576.7,945.6 L1577.0,945.5 L1577.3,945.4 L1577.6,945.3 L1578.0,945.3 L1578.3,945.2 L1578.6,945.1 L1578.9,945.0 L1579.2,945.0 L1579.5,944.9 L1579.8,944.8 L1580.1,944.7 L1580.4,944.6 L1580.7,944.5 L1581.0,944.4 L1581.3,944.3 L1581.6,944.2 L1581.9,944.1 L1582.2,943.9 L1582.5,943.8 L1582.8,943.7 L1583.1,943.5 L1583.4,943.4 L1583.7,943.3 L1584.0,943.1 L1584.3,942.9 L1584.6,942.8 L1584.9,942.6 L1585.2,942.4 L1585.5,942.2 L1585.8,942.0 L1586.1,941.8 L1586.4,941.6 L1586.7,941.4 L1587.1,941.1 L1587.4,940.9 L1587.7,940.6 L1588.0,940.3 L1588.3,940.0 L1588.6,939.7 L1588.9,939.4 L1589.2,939.1 L1589.5,938.7 L1589.8,938.3 L1590.1,937.9 L1590.4,937.5 L1590.7,937.0 L1591.0,936.6 L1591.3,936.1 L1591.6,935.5 L1591.9,935.0 L1592.2,934.4 L1592.5,933.8 L1592.8,933.1 L1593.1,932.4 L1593.4,931.6 L1593.7,930.8 L1594.0,930.0 L1594.3,929.1 L1594.6,928.1 L1594.9,927.1 L1595.2,926.1 L1595.5,924.9 L1595.8,923.8 L1596.2,922.5 L1596.5,921.2 L1596.8,919.8 L1597.1,918.3 L1597.4,916.8 L1597.7,915.2 L1598.0,913.6 L1598.3,911.9 L1598.6,910.2 L1598.9,908.4 L1599.2,906.6 L1599.5,904.9 L1599.8,903.1 L1600.1,901.5 L1600.4,899.9 L1600.7,898.4 L1601.0,897.1 L1601.3,895.9 L1601.6,894.9 L1601.9,894.2 L1602.2,893.7 L1602.5,893.4 L1602.8,893.4 L1603.1,893.6 L1603.4,894.1 L1603.7,894.8 L1604.0,895.7 L1604.3,896.7 L1604.6,897.9 L1604.9,899.2 L1605.2,900.6 L1605.6,902.0 L1605.9,903.5 L1606.2,905.0 L1606.5,906.5 L1606.8,907.9 L1607.1,909.4 L1607.4,910.8 L1607.7,912.1 L1608.0,913.4 L1608.3,914.6 L1608.6,915.8 L1608.9,917.0 L1609.2,918.0 L1609.5,919.1 L1609.8,920.0 L1610.1,921.0 L1610.4,921.8 L1610.7,922.7 L1611.0,923.5 L1611.3,924.2 L1611.6,924.9 L1611.9,925.6 L1612.2,926.2 L1612.5,926.8 L1612.8,927.4 L1613.1,927.9 L1613.4,928.4 L1613.7,928.9 L1614.0,929.4 L1614.3,929.8 L1614.7,930.2 L1615.0,930.6 L1615.3,931.0 L1615.6,931.3 L1615.9,931.7 L1616.2,932.0 L1616.5,932.3 L1616.8,932.6 L1617.1,932.9 L1617.4,933.1 L1617.7,933.4 L1618.0,933.6 L1618.3,933.9 L1618.6,934.1 L1618.9,934.3 L1619.2,934.5 L1619.5,934.7 L1619.8,934.9 L1620.1,935.0 L1620.4,935.2 L1620.7,935.4 L1621.0,935.5 L1621.3,935.7 L1621.6,935.8 L1621.9,936.0 L1622.2,936.1 L1622.5,936.2 L1622.8,936.3 L1623.1,936.5 L1623.4,936.6 L1623.8,936.7 L1624.1,936.8 L1624.4,936.9 L1624.7,937.0 L1625.0,937.1 L1625.3,937.1 L1625.6,937.2 L1625.9,937.3 L1626.2,937.4 L1626.5,937.5 L1626.8,937.5 L1627.1,937.6 L1627.4,937.7 L1627.7,937.8 L1628.0,937.8 L1628.3,937.9 L1628.6,937.9 L1628.9,938.0" fill="none" stroke="#d9d9d9" stroke-width="8" stroke-linejoin="round" stroke-linecap="round"/>
<line x1="1205.3" y1="960.2" x2="1205.3" y2="955.2" stroke="#000" stroke-width="3"/>
<line x1="1416.6" y1="960.2" x2="1416.6" y2="955.2" stroke="#000" stroke-width="3"/>
<line x1="1627.8" y1="960.2" x2="1627.8" y2="955.2" stroke="#000" stroke-width="3"/>
<line x1="1190.8" y1="955.6" x2="1195.8" y2="955.6" stroke="#000" stroke-width="3"/>
<line x1="1190.8" y1="869.8" x2="1195.8" y2="869.8" stroke="#000" stroke-width="3"/>
<line x1="1190.8" y1="784.0" x2="1195.8" y2="784.0" stroke="#000" stroke-width="3"/>
<rect x="1190.8" y="778.6" width="453.20" height="181.60" fill="none" stroke="#000" stroke-width="2.8"/>
<line x1="1230.4" y1="62.4" x2="1230.4" y2="955" stroke="#f81d14" stroke-width="4.2" stroke-dasharray="13.6 4.8"/>
<line x1="1602.5" y1="62.4" x2="1602.5" y2="952" stroke="#8eaadc" stroke-width="3.6" stroke-dasharray="12.7 5.5"/>
<circle cx="1232" cy="953.1" r="17.4" fill="none" stroke="#f81d14" stroke-width="2.5"/>
<path d="M1601.2,935.5 L1618.8,968.8 L1583.6,968.8 Z" fill="none" stroke="#8eaadc" stroke-width="3.6"/>
<text transform="translate(12.14,41.60) scale(0.8036,0.9000)" fill="#000" style="font-family:'Liberation Sans', Arial, sans-serif;font-size:54px;">a</text>
<text transform="translate(521.04,41.56) scale(0.9880,1.0400)" fill="#000" style="font-family:'Liberation Sans', Arial, sans-serif;font-size:54px;">b</text>
<text transform="translate(11.85,537.92) scale(0.9261,0.8333)" fill="#000" style="font-family:'Liberation Sans', Arial, sans-serif;font-size:54px;">c</text>
<text transform="translate(528.63,537.37) scale(0.9840,1.0350)" fill="#000" style="font-family:'Liberation Sans', Arial, sans-serif;font-size:54px;">d</text>
<text transform="translate(1068.45,41.15) scale(0.9769,0.8500)" fill="#000" style="font-family:'Liberation Sans', Arial, sans-serif;font-size:54px;">e</text>
<text transform="translate(1068.57,463.00) scale(1.2286,1.0513)" fill="#000" style="font-family:'Liberation Sans', Arial, sans-serif;font-size:54px;">f</text>
<text transform="translate(1067.96,807.83) scale(1.0200,0.9250)" fill="#000" style="font-family:'Liberation Sans', Arial, sans-serif;font-size:54px;">g</text>
<text transform="translate(90.28,74.90) scale(1.0235,1.1083)" fill="#000" style="font-family:'Liberation Sans', Arial, sans-serif;font-size:35px;">0</text>
<text transform="translate(66.91,264.84) scale(1.0471,1.0471)" fill="#000" style="font-family:'Liberation Sans', Arial, sans-serif;font-size:35px;">−</text>
<text transform="translate(88.74,261.90) scale(0.9200,1.0792)" fill="#000" style="font-family:'Liberation Sans', Arial, sans-serif;font-size:35px;">1</text>
<text transform="translate(67.18,451.54) scale(1.0118,1.0118)" fill="#000" style="font-family:'Liberation Sans', Arial, sans-serif;font-size:35px;">−</text>
<text transform="translate(88.85,449.30) scale(1.0750,1.0708)" fill="#000" style="font-family:'Liberation Sans', Arial, sans-serif;font-size:35px;">2</text>
<text transform="translate(114.11,475.90) scale(0.9889,1.0667)" fill="#000" style="font-family:'Liberation Sans', Arial, sans-serif;font-size:35px;">4</text>
<text transform="translate(208.25,476.00) scale(1.0750,1.1000)" fill="#000" style="font-family:'Liberation Sans', Arial, sans-serif;font-size:35px;">2</text>
<text transform="translate(292.14,476.00) scale(1.0588,1.1000)" fill="#000" style="font-family:'Liberation Sans', Arial, sans-serif;font-size:35px;">0</text>
<text transform="translate(385.36,476.00) scale(1.1187,1.1000)" fill="#000" style="font-family:'Liberation Sans', Arial, sans-serif;font-size:35px;">2</text>
<text transform="translate(479.58,475.90) scale(1.0222,1.0667)" fill="#000" style="font-family:'Liberation Sans', Arial, sans-serif;font-size:35px;">4</text>
<text transform="translate(92.32,477.46) scale(0.9882,0.9882)" fill="#000" style="font-family:'Liberation Sans', Arial, sans-serif;font-size:35px;">−</text>
<text transform="translate(185.98,478.04) scale(1.0118,1.0118)" fill="#000" style="font-family:'Liberation Sans', Arial, sans-serif;font-size:35px;">−</text>
<text transform="translate(265.02,523.10) scale(0.9800,1.0968)" fill="#000" style="font-family:'Liberation Serif', 'Times New Roman', serif;font-size:47px;">Re</text>
<text transform="translate(319.76,523.10) scale(0.9552,1.0968)" fill="#000" style="font-family:'Liberation Serif', 'Times New Roman', serif;font-size:47px;font-style:italic;">E</text>
<text transform="translate(316.85,112.20) scale(0.9467,1.0469)" fill="#000" style="font-family:'Liberation Serif', 'Times New Roman', serif;font-size:49px;font-style:italic;">E</text>
<text transform="translate(343.67,121.60) scale(1.0300,1.0773)" fill="#000" style="font-family:'Liberation Serif', 'Times New Roman', serif;font-size:33px;">B</text>
<text transform="translate(382.51,117.20) scale(1.2957,1.2000)" fill="#000" style="font-family:'Liberation Serif', 'Times New Roman', serif;font-size:49px;">=</text>
<text transform="translate(431.77,112.20) scale(1.0667,1.0562)" fill="#000" style="font-family:'Liberation Serif', 'Times New Roman', serif;font-size:49px;">0</text>
<text transform="translate(602.78,74.90) scale(1.0235,1.1083)" fill="#000" style="font-family:'Liberation Sans', Arial, sans-serif;font-size:35px;">0</text>
<text transform="translate(579.41,264.84) scale(1.0471,1.0471)" fill="#000" style="font-family:'Liberation Sans', Arial, sans-serif;font-size:35px;">−</text>
<text transform="translate(601.24,261.90) scale(0.9200,1.0792)" fill="#000" style="font-family:'Liberation Sans', Arial, sans-serif;font-size:35px;">1</text>
<text transform="translate(579.68,451.54) scale(1.0118,1.0118)" fill="#000" style="font-family:'Liberation Sans', Arial, sans-serif;font-size:35px;">−</text>
<text transform="translate(601.35,449.30) scale(1.0750,1.0708)" fill="#000" style="font-family:'Liberation Sans', Arial, sans-serif;font-size:35px;">2</text>
<text transform="translate(626.61,475.90) scale(0.9889,1.0667)" fill="#000" style="font-family:'Liberation Sans', Arial, sans-serif;font-size:35px;">4</text>
<text transform="translate(720.75,476.00) scale(1.0750,1.1000)" fill="#000" style="font-family:'Liberation Sans', Arial, sans-serif;font-size:35px;">2</text>
<text transform="translate(804.64,476.00) scale(1.0588,1.1000)" fill="#000" style="font-family:'Liberation Sans', Arial, sans-serif;font-size:35px;">0</text>
<text transform="translate(897.86,476.00) scale(1.1187,1.1000)" fill="#000" style="font-family:'Liberation Sans', Arial, sans-serif;font-size:35px;">2</text>
<text transform="translate(992.08,475.90) scale(1.0222,1.0667)" fill="#000" style="font-family:'Liberation Sans', Arial, sans-serif;font-size:35px;">4</text>
<text transform="translate(604.82,477.46) scale(0.9882,0.9882)" fill="#000" style="font-family:'Liberation Sans', Arial, sans-serif;font-size:35px;">−</text>
<text transform="translate(698.48,478.04) scale(1.0118,1.0118)" fill="#000" style="font-family:'Liberation Sans', Arial, sans-serif;font-size:35px;">−</text>
<text transform="translate(777.52,523.10) scale(0.9800,1.0968)" fill="#000" style="font-family:'Liberation Serif', 'Times New Roman', serif;font-size:47px;">Re</text>
<text transform="translate(832.26,523.10) scale(0.9552,1.0968)" fill="#000" style="font-family:'Liberation Serif', 'Times New Roman', serif;font-size:47px;font-style:italic;">E</text>
<text transform="translate(830.25,112.20) scale(0.9467,1.0469)" fill="#000" style="font-family:'Liberation Serif', 'Times New Roman', serif;font-size:49px;font-style:italic;">E</text>
<text transform="translate(857.07,121.60) scale(1.0300,1.0773)" fill="#000" style="font-family:'Liberation Serif', 'Times New Roman', serif;font-size:33px;">B</text>
<text transform="translate(895.91,117.20) scale(1.2957,1.2000)" fill="#000" style="font-family:'Liberation Serif', 'Times New Roman', serif;font-size:49px;">=</text>
<text transform="translate(945.17,112.20) scale(1.0667,1.0562)" fill="#000" style="font-family:'Liberation Serif', 'Times New Roman', serif;font-size:49px;">0</text>
<text transform="translate(34.60,292.83) scale(1.0406,1.0134) rotate(-90)" fill="#000" style="font-family:'Liberation Serif', 'Times New Roman', serif;font-size:49px;">Im<tspan style="font-style:italic">E</tspan></text>
<text transform="translate(56.38,602.70) scale(1.0750,1.1542)" fill="#000" style="font-family:'Liberation Sans', Arial, sans-serif;font-size:35px;">1.5</text>
<text transform="translate(88.54,721.80) scale(0.9200,1.1083)" fill="#000" style="font-family:'Liberation Sans', Arial, sans-serif;font-size:35px;">1</text>
<text transform="translate(56.22,841.30) scale(1.0804,1.1042)" fill="#000" style="font-family:'Liberation Sans', Arial, sans-serif;font-size:35px;">0.5</text>
<text transform="translate(88.36,961.70) scale(1.0412,1.1000)" fill="#000" style="font-family:'Liberation Sans', Arial, sans-serif;font-size:35px;">0</text>
<text transform="translate(86.17,1001.44) scale(1.0647,1.0647)" fill="#000" style="font-family:'Liberation Sans', Arial, sans-serif;font-size:35px;">−</text>
<text transform="translate(113.60,999.00) scale(1.2571,1.0316)" fill="#000" style="font-family:'Liberation Serif', 'Times New Roman', serif;font-size:40px;font-style:italic;">π</text>
<text transform="translate(293.97,998.75) scale(1.0294,1.0938)" fill="#000" style="font-family:'Liberation Sans', Arial, sans-serif;font-size:35px;">0</text>
<text transform="translate(484.70,999.00) scale(1.2381,1.0316)" fill="#000" style="font-family:'Liberation Serif', 'Times New Roman', serif;font-size:40px;font-style:italic;">π</text>
<text transform="translate(292.56,1039.00) scale(1.1450,0.9697)" fill="#000" style="font-family:'Liberation Serif', 'Times New Roman', serif;font-size:46px;font-style:italic;">k</text>
<text transform="translate(150.75,927.80) scale(1.1478,1.0353)" fill="#f81d14" style="font-family:'Liberation Serif', 'Times New Roman', serif;font-size:48px;font-style:italic;font-weight:bold;">k</text>
<text transform="translate(179.76,939.10) scale(1.2692,1.0727)" fill="#f81d14" style="font-family:'Liberation Serif', 'Times New Roman', serif;font-size:33px;font-weight:bold;">1</text>
<text transform="translate(345.47,926.50) scale(1.1348,1.0265)" fill="#8eaadc" style="font-family:'Liberation Serif', 'Times New Roman', serif;font-size:48px;font-style:italic;font-weight:bold;">k</text>
<text transform="translate(374.49,936.00) scale(1.2071,1.0682)" fill="#8eaadc" style="font-family:'Liberation Serif', 'Times New Roman', serif;font-size:33px;font-weight:bold;">2</text>
<text transform="translate(568.38,602.70) scale(1.0750,1.1542)" fill="#000" style="font-family:'Liberation Sans', Arial, sans-serif;font-size:35px;">1.5</text>
<text transform="translate(600.54,721.80) scale(0.9200,1.1083)" fill="#000" style="font-family:'Liberation Sans', Arial, sans-serif;font-size:35px;">1</text>
<text transform="translate(568.22,841.30) scale(1.0804,1.1042)" fill="#000" style="font-family:'Liberation Sans', Arial, sans-serif;font-size:35px;">0.5</text>
<text transform="translate(600.36,961.70) scale(1.0412,1.1000)" fill="#000" style="font-family:'Liberation Sans', Arial, sans-serif;font-size:35px;">0</text>
<text transform="translate(598.17,1001.44) scale(1.0647,1.0647)" fill="#000" style="font-family:'Liberation Sans', Arial, sans-serif;font-size:35px;">−</text>
<text transform="translate(625.60,999.00) scale(1.2571,1.0316)" fill="#000" style="font-family:'Liberation Serif', 'Times New Roman', serif;font-size:40px;font-style:italic;">π</text>
<text transform="translate(805.97,998.75) scale(1.0294,1.0938)" fill="#000" style="font-family:'Liberation Sans', Arial, sans-serif;font-size:35px;">0</text>
<text transform="translate(996.70,999.00) scale(1.2381,1.0316)" fill="#000" style="font-family:'Liberation Serif', 'Times New Roman', serif;font-size:40px;font-style:italic;">π</text>
<text transform="translate(804.56,1039.00) scale(1.1450,0.9697)" fill="#000" style="font-family:'Liberation Serif', 'Times New Roman', serif;font-size:46px;font-style:italic;">k</text>
<text transform="translate(662.75,927.80) scale(1.1478,1.0353)" fill="#f81d14" style="font-family:'Liberation Serif', 'Times New Roman', serif;font-size:48px;font-style:italic;font-weight:bold;">k</text>
<text transform="translate(691.76,939.10) scale(1.2692,1.0727)" fill="#f81d14" style="font-family:'Liberation Serif', 'Times New Roman', serif;font-size:33px;font-weight:bold;">1</text>
<text transform="translate(857.47,926.50) scale(1.1348,1.0265)" fill="#8eaadc" style="font-family:'Liberation Serif', 'Times New Roman', serif;font-size:48px;font-style:italic;font-weight:bold;">k</text>
<text transform="translate(886.49,936.00) scale(1.2071,1.0682)" fill="#8eaadc" style="font-family:'Liberation Serif', 'Times New Roman', serif;font-size:33px;font-weight:bold;">2</text>
<text transform="translate(36.80,885.81) scale(1.0138,0.8448) rotate(-90)" fill="#000" style="font-family:'Liberation Serif', 'Times New Roman', serif;font-size:44px;font-style:italic;">A</text>
<text transform="translate(34.82,859.25) scale(0.9650,1.2273) rotate(-90)" fill="#000" style="font-family:'Liberation Serif', 'Times New Roman', serif;font-size:44px;">(</text>
<text transform="translate(36.80,840.61) scale(1.0138,0.8852) rotate(-90)" fill="#000" style="font-family:'Liberation Serif', 'Times New Roman', serif;font-size:44px;font-style:italic;">E</text>
<text transform="translate(38.89,802.30) scale(1.0545,1.2524) rotate(-90)" fill="#000" style="font-family:'Liberation Serif', 'Times New Roman', serif;font-size:44px;">=</text>
<text transform="translate(36.20,757.70) scale(1.0138,0.9000) rotate(-90)" fill="#000" style="font-family:'Liberation Serif', 'Times New Roman', serif;font-size:44px;font-style:italic;">E</text>
<text transform="translate(44.70,733.70) scale(1.0524,1.0056) rotate(-90)" fill="#000" style="font-family:'Liberation Serif', 'Times New Roman', serif;font-size:31px;font-style:italic;">B</text>
<text transform="translate(36.39,711.10) scale(0.7182,0.8500) rotate(-90)" fill="#000" style="font-family:'Liberation Serif', 'Times New Roman', serif;font-size:44px;">,</text>
<text transform="translate(36.20,694.64) scale(1.0032,1.0421) rotate(-90)" fill="#000" style="font-family:'Liberation Serif', 'Times New Roman', serif;font-size:44px;font-style:italic;">k</text>
<text transform="translate(34.76,672.02) scale(0.9825,1.1250) rotate(-90)" fill="#000" style="font-family:'Liberation Serif', 'Times New Roman', serif;font-size:44px;">)</text>
<text transform="translate(1123.42,102.40) scale(1.0388,1.0786)" fill="#000" style="font-family:'Liberation Serif', 'Times New Roman', serif;font-size:42px;">3.5</text>
<text transform="translate(1154.61,252.10) scale(0.9947,1.0429)" fill="#000" style="font-family:'Liberation Serif', 'Times New Roman', serif;font-size:42px;">0</text>
<text transform="translate(1091.07,408.01) scale(1.3150,1.3150)" fill="#000" style="font-family:'Liberation Serif', 'Times New Roman', serif;font-size:42px;">−</text>
<text transform="translate(1122.95,401.90) scale(1.0245,1.0643)" fill="#000" style="font-family:'Liberation Serif', 'Times New Roman', serif;font-size:42px;">3.5</text>
<text transform="translate(1122.00,268.05) scale(1.0000,0.9459) rotate(-90)" fill="#000" style="font-family:'Liberation Serif', 'Times New Roman', serif;font-size:44px;">Re<tspan style="font-style:italic">E</tspan></text>
<text transform="translate(1328.97,44.00) scale(1.1263,0.9935)" fill="#000" style="font-family:'Liberation Serif', 'Times New Roman', serif;font-size:44px;font-style:italic;">k</text>
<text transform="translate(1352.70,52.20) scale(1.2583,1.0133)" fill="#000" style="font-family:'Liberation Serif', 'Times New Roman', serif;font-size:31px;font-style:italic;">z</text>
<text transform="translate(1380.17,47.23) scale(1.2667,1.1364)" fill="#000" style="font-family:'Liberation Serif', 'Times New Roman', serif;font-size:44px;">=</text>
<text transform="translate(1424.30,44.00) scale(0.9980,1.0172)" fill="#000" style="font-family:'Liberation Serif', 'Times New Roman', serif;font-size:44px;">0.5</text>
<text transform="translate(1489.80,44.00) scale(1.0087,1.0700)" fill="#000" style="font-family:'Liberation Serif', 'Times New Roman', serif;font-size:44px;font-style:italic;">π</text>
<text transform="translate(1122.93,454.60) scale(1.0367,1.0714)" fill="#000" style="font-family:'Liberation Serif', 'Times New Roman', serif;font-size:42px;">3.5</text>
<text transform="translate(1154.26,605.00) scale(1.0368,0.9714)" fill="#000" style="font-family:'Liberation Serif', 'Times New Roman', serif;font-size:42px;">0</text>
<text transform="translate(1090.96,760.68) scale(1.3200,1.3200)" fill="#000" style="font-family:'Liberation Serif', 'Times New Roman', serif;font-size:42px;">−</text>
<text transform="translate(1122.94,754.00) scale(1.0306,1.0250)" fill="#000" style="font-family:'Liberation Serif', 'Times New Roman', serif;font-size:42px;">3.5</text>
<text transform="translate(1140.30,619.29) scale(1.0517,0.9107) rotate(-90)" fill="#000" style="font-family:'Liberation Serif', 'Times New Roman', serif;font-size:45px;font-style:italic;">E</text>
<text transform="translate(1267.04,603.50) scale(0.9444,1.0103)" fill="#fff" style="font-family:'Liberation Serif', 'Times New Roman', serif;font-size:44px;font-style:italic;">E</text>
<text transform="translate(1288.20,611.50) scale(1.2000,0.9667)" fill="#fff" style="font-family:'Liberation Serif', 'Times New Roman', serif;font-size:31px;">S</text>
<text transform="translate(1320.48,606.55) scale(1.2619,1.0727)" fill="#fff" style="font-family:'Liberation Serif', 'Times New Roman', serif;font-size:44px;">=</text>
<text transform="translate(1363.59,603.90) scale(1.0059,1.0379)" fill="#fff" style="font-family:'Liberation Serif', 'Times New Roman', serif;font-size:44px;">0.5</text>
<text transform="translate(1655.86,440.60) scale(1.1395,1.0462)" fill="#000" style="font-family:'Liberation Serif', 'Times New Roman', serif;font-size:40px;">80</text>
<text transform="translate(1667.68,772.00) scale(1.0167,0.9462)" fill="#000" style="font-family:'Liberation Serif', 'Times New Roman', serif;font-size:40px;">0</text>
<text transform="translate(1716.91,523.05) scale(0.9897,1.0226) rotate(90)" fill="#000" style="font-family:'Liberation Serif', 'Times New Roman', serif;font-size:42px;font-style:italic;">A(E, k<tspan dy="7" style="font-size:30px">x</tspan><tspan dy="-7">)</tspan></text>
<text transform="translate(1131.98,808.10) scale(1.1077,1.0500)" fill="#000" style="font-family:'Liberation Serif', 'Times New Roman', serif;font-size:42px;">30</text>
<text transform="translate(1131.51,889.80) scale(1.1222,1.1143)" fill="#000" style="font-family:'Liberation Serif', 'Times New Roman', serif;font-size:42px;">15</text>
<text transform="translate(1156.14,964.20) scale(1.0632,1.0500)" fill="#000" style="font-family:'Liberation Serif', 'Times New Roman', serif;font-size:42px;">0</text>
<text transform="translate(1178.75,1005.15) scale(1.3250,1.3250)" fill="#000" style="font-family:'Liberation Serif', 'Times New Roman', serif;font-size:42px;">−</text>
<text transform="translate(1209.41,998.80) scale(1.1467,0.9929)" fill="#000" style="font-family:'Liberation Serif', 'Times New Roman', serif;font-size:42px;">1</text>
<text transform="translate(1409.27,998.90) scale(1.0263,1.0321)" fill="#000" style="font-family:'Liberation Serif', 'Times New Roman', serif;font-size:42px;">0</text>
<text transform="translate(1615.97,998.80) scale(1.1333,0.9929)" fill="#000" style="font-family:'Liberation Serif', 'Times New Roman', serif;font-size:42px;">1</text>
<text transform="translate(1400.12,1048.60) scale(1.1750,1.0394)" fill="#000" style="font-family:'Liberation Serif', 'Times New Roman', serif;font-size:46px;font-style:italic;">k</text>
<text transform="translate(1427.10,1058.10) scale(1.4214,1.2333)" fill="#000" style="font-family:'Liberation Serif', 'Times New Roman', serif;font-size:32px;font-style:italic;">x</text>
<text transform="translate(1295.39,820.10) scale(0.8448,1.0241)" fill="#000" style="font-family:'Liberation Serif', 'Times New Roman', serif;font-size:44px;font-style:italic;">A</text>
<text transform="translate(1321.64,817.47) scale(1.2818,0.9925)" fill="#000" style="font-family:'Liberation Serif', 'Times New Roman', serif;font-size:44px;">(</text>
<text transform="translate(1341.38,820.10) scale(0.8815,1.0241)" fill="#000" style="font-family:'Liberation Serif', 'Times New Roman', serif;font-size:44px;font-style:italic;">E</text>
<text transform="translate(1378.86,821.89) scale(1.2714,1.0545)" fill="#000" style="font-family:'Liberation Serif', 'Times New Roman', serif;font-size:44px;">=</text>
<text transform="translate(1424.58,820.10) scale(0.8815,1.0241)" fill="#000" style="font-family:'Liberation Serif', 'Times New Roman', serif;font-size:44px;font-style:italic;">E</text>
<text transform="translate(1446.00,827.50) scale(0.8933,0.9524)" fill="#000" style="font-family:'Liberation Serif', 'Times New Roman', serif;font-size:31px;font-style:italic;">S</text>
<text transform="translate(1462.13,818.36) scale(1.2333,1.2727)" fill="#000" style="font-family:'Liberation Serif', 'Times New Roman', serif;font-size:44px;">,</text>
<text transform="translate(1481.34,820.10) scale(1.0579,1.0065)" fill="#000" style="font-family:'Liberation Serif', 'Times New Roman', serif;font-size:44px;font-style:italic;">k</text>
<text transform="translate(1504.00,827.50) scale(1.2714,1.0333)" fill="#000" style="font-family:'Liberation Serif', 'Times New Roman', serif;font-size:31px;font-style:italic;">x</text>
<text transform="translate(1524.38,817.47) scale(1.1167,0.9925)" fill="#000" style="font-family:'Liberation Serif', 'Times New Roman', serif;font-size:44px;">)</text>
<text transform="translate(1249.73,887.70) scale(1.1696,1.0559)" fill="#f81d14" style="font-family:'Liberation Serif', 'Times New Roman', serif;font-size:48px;font-style:italic;font-weight:bold;">k</text>
<text transform="translate(1280.65,897.90) scale(1.1471,1.2062)" fill="#f81d14" style="font-family:'Liberation Serif', 'Times New Roman', serif;font-size:33px;font-style:italic;font-weight:bold;">x</text>
<text transform="translate(1299.53,897.90) scale(1.2846,1.1091)" fill="#f81d14" style="font-family:'Liberation Serif', 'Times New Roman', serif;font-size:33px;font-weight:bold;">1</text>
<text transform="translate(1519.46,883.20) scale(1.1435,1.0559)" fill="#8eaadc" style="font-family:'Liberation Serif', 'Times New Roman', serif;font-size:48px;font-style:italic;font-weight:bold;">k</text>
<text transform="translate(1550.31,893.10) scale(1.1118,1.1313)" fill="#8eaadc" style="font-family:'Liberation Serif', 'Times New Roman', serif;font-size:33px;font-style:italic;font-weight:bold;">x</text>
<text transform="translate(1569.74,893.10) scale(1.1571,1.0636)" fill="#8eaadc" style="font-family:'Liberation Serif', 'Times New Roman', serif;font-size:33px;font-weight:bold;">2</text>
</svg></body></html>
